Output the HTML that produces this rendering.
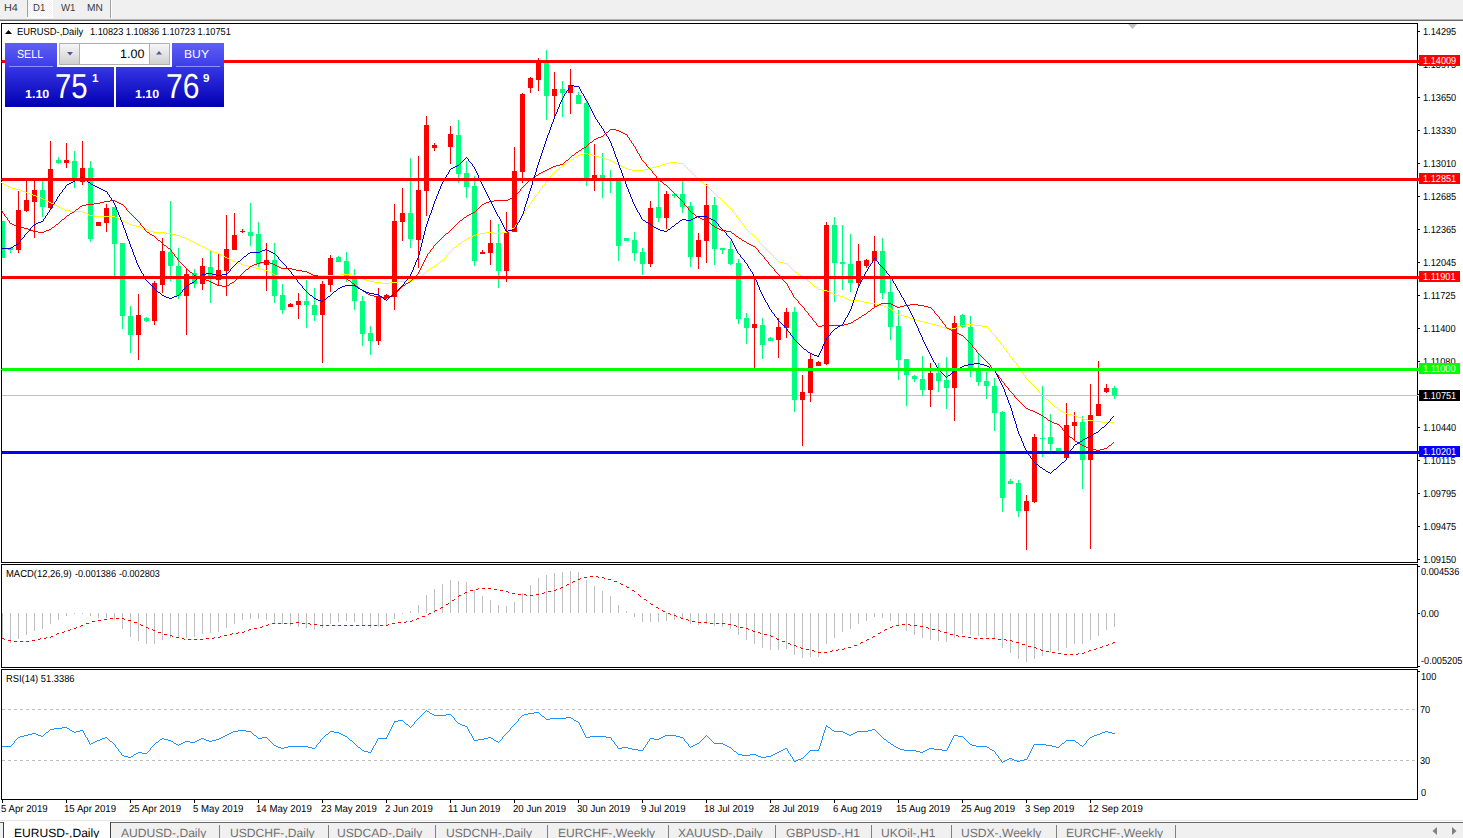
<!DOCTYPE html>
<html><head><meta charset="utf-8"><title>EURUSD-,Daily</title>
<style>
html,body{margin:0;padding:0;background:#fff;}
body{width:1463px;height:838px;overflow:hidden;position:relative;font-family:"Liberation Sans",sans-serif;color:#000;}
.t{position:absolute;white-space:nowrap;line-height:1;transform-origin:0 0;text-rendering:geometricPrecision;}
.b{position:absolute;}
svg{position:absolute;left:0;top:0;}
</style></head><body>

<div class="b" style="left:0px;top:0px;width:1463px;height:19px;background:#f0f0f0;"></div>
<div class="b" style="left:0px;top:19px;width:1463px;height:1px;background:#b4b4b4;"></div>
<div class="b" style="left:0px;top:20px;width:1463px;height:1px;background:#6a6a6a;"></div>
<div class="b" style="left:28px;top:0px;width:24px;height:17px;background:#f0f0f0;background-image:linear-gradient(45deg,#fff 25%,transparent 25%,transparent 75%,#fff 75%),linear-gradient(45deg,#fff 25%,transparent 25%,transparent 75%,#fff 75%);background-size:2px 2px;background-position:0 0,1px 1px;"></div>
<div class="b" style="left:52px;top:0px;width:1px;height:18px;background:#fff;"></div>
<div class="b" style="left:27px;top:17px;width:26px;height:1px;background:#fff;"></div>
<div class="b" style="left:27px;top:0px;width:1px;height:17px;background:#a0a0a0;"></div>
<div class="b" style="left:110px;top:0px;width:1px;height:18px;background:#a0a0a0;"></div>
<div class="b" style="left:111px;top:0px;width:1px;height:18px;background:#ffffff;"></div>
<div class="t" style="left:3.63px;top:3.00px;font-size:10.2px;color:#3c3c3c;transform:scaleX(1.0642);line-height:11px;">H4</div>
<div class="t" style="left:33.23px;top:3.00px;font-size:10.2px;color:#3c3c3c;transform:scaleX(0.9378);line-height:11px;">D1</div>
<div class="t" style="left:61.10px;top:3.00px;font-size:10.2px;color:#3c3c3c;transform:scaleX(0.9433);line-height:11px;">W1</div>
<div class="t" style="left:86.98px;top:3.00px;font-size:10.2px;color:#3c3c3c;transform:scaleX(1.0014);line-height:11px;">MN</div>
<svg width="1463" height="838" viewBox="0 0 1463 838" shape-rendering="crispEdges">
<g fill="none" stroke="#000" stroke-width="1">
<path d="M1.5 562.5 V23.5 H1417.5 V562.5 H1.5"/>
<path d="M1.5 564.5 H1417.5 V667.5 H1.5 Z"/>
<path d="M1.5 669.5 H1417.5 V799.5 H1.5 Z"/>
</g>
<g fill="#000">
<rect x="1418" y="31" width="2" height="1"/>
<rect x="1418" y="64" width="2" height="1"/>
<rect x="1418" y="97" width="2" height="1"/>
<rect x="1418" y="130" width="2" height="1"/>
<rect x="1418" y="163" width="2" height="1"/>
<rect x="1418" y="196" width="2" height="1"/>
<rect x="1418" y="229" width="2" height="1"/>
<rect x="1418" y="262" width="2" height="1"/>
<rect x="1418" y="295" width="2" height="1"/>
<rect x="1418" y="328" width="2" height="1"/>
<rect x="1418" y="361" width="2" height="1"/>
<rect x="1418" y="394" width="2" height="1"/>
<rect x="1418" y="427" width="2" height="1"/>
<rect x="1418" y="460" width="2" height="1"/>
<rect x="1418" y="493" width="2" height="1"/>
<rect x="1418" y="526" width="2" height="1"/>
<rect x="1418" y="559" width="2" height="1"/>
<rect x="1418" y="566" width="2" height="1"/>
<rect x="1418" y="613" width="2" height="1"/>
<rect x="1418" y="666" width="2" height="1"/>
<rect x="1418" y="671" width="2" height="1"/>
<rect x="2" y="800" width="1" height="3"/>
<rect x="66" y="800" width="1" height="3"/>
<rect x="130" y="800" width="1" height="3"/>
<rect x="194" y="800" width="1" height="3"/>
<rect x="258" y="800" width="1" height="3"/>
<rect x="322" y="800" width="1" height="3"/>
<rect x="386" y="800" width="1" height="3"/>
<rect x="450" y="800" width="1" height="3"/>
<rect x="514" y="800" width="1" height="3"/>
<rect x="578" y="800" width="1" height="3"/>
<rect x="642" y="800" width="1" height="3"/>
<rect x="706" y="800" width="1" height="3"/>
<rect x="770" y="800" width="1" height="3"/>
<rect x="834" y="800" width="1" height="3"/>
<rect x="898" y="800" width="1" height="3"/>
<rect x="962" y="800" width="1" height="3"/>
<rect x="1026" y="800" width="1" height="3"/>
<rect x="1090" y="800" width="1" height="3"/>
</g>
<path d="M1128 24 H1137 L1132.5 29 Z" fill="#c0c0c0" shape-rendering="auto"/>
<rect x="2" y="395" width="1416" height="1" fill="#c0c0c0"/>
<g>
<rect x="2" y="221" width="1" height="37" fill="#00ff7f"/>
<rect x="2" y="221" width="3" height="37" fill="#00ff7f"/>
<rect x="10" y="247" width="1" height="6" fill="#00ff7f"/>
<rect x="8" y="248" width="5" height="2" fill="#00ff7f"/>
<rect x="18" y="191" width="1" height="62" fill="#ff0000"/>
<rect x="16" y="210" width="5" height="40" fill="#ff0000"/>
<rect x="26" y="180" width="1" height="32" fill="#ff0000"/>
<rect x="24" y="200" width="5" height="11" fill="#ff0000"/>
<rect x="34" y="180" width="1" height="58" fill="#ff0000"/>
<rect x="32" y="190" width="5" height="12" fill="#ff0000"/>
<rect x="42" y="181" width="1" height="36" fill="#00ff7f"/>
<rect x="40" y="190" width="5" height="17" fill="#00ff7f"/>
<rect x="50" y="141" width="1" height="68" fill="#ff0000"/>
<rect x="48" y="169" width="5" height="39" fill="#ff0000"/>
<rect x="58" y="157" width="1" height="7" fill="#00ff7f"/>
<rect x="56" y="160" width="5" height="3" fill="#00ff7f"/>
<rect x="66" y="143" width="1" height="25" fill="#ff0000"/>
<rect x="64" y="160" width="5" height="3" fill="#ff0000"/>
<rect x="74" y="151" width="1" height="37" fill="#00ff7f"/>
<rect x="72" y="161" width="5" height="19" fill="#00ff7f"/>
<rect x="82" y="141" width="1" height="44" fill="#ff0000"/>
<rect x="80" y="168" width="5" height="14" fill="#ff0000"/>
<rect x="90" y="161" width="1" height="81" fill="#00ff7f"/>
<rect x="88" y="168" width="5" height="71" fill="#00ff7f"/>
<rect x="98" y="222" width="1" height="4" fill="#ff0000"/>
<rect x="96" y="222" width="5" height="4" fill="#ff0000"/>
<rect x="106" y="204" width="1" height="28" fill="#ff0000"/>
<rect x="104" y="208" width="5" height="15" fill="#ff0000"/>
<rect x="114" y="207" width="1" height="70" fill="#00ff7f"/>
<rect x="112" y="207" width="5" height="37" fill="#00ff7f"/>
<rect x="122" y="243" width="1" height="86" fill="#00ff7f"/>
<rect x="120" y="243" width="5" height="73" fill="#00ff7f"/>
<rect x="130" y="306" width="1" height="47" fill="#00ff7f"/>
<rect x="128" y="316" width="5" height="19" fill="#00ff7f"/>
<rect x="138" y="294" width="1" height="66" fill="#ff0000"/>
<rect x="136" y="315" width="5" height="20" fill="#ff0000"/>
<rect x="146" y="317" width="1" height="5" fill="#00ff7f"/>
<rect x="144" y="318" width="5" height="3" fill="#00ff7f"/>
<rect x="154" y="281" width="1" height="44" fill="#ff0000"/>
<rect x="152" y="283" width="5" height="38" fill="#ff0000"/>
<rect x="162" y="238" width="1" height="55" fill="#ff0000"/>
<rect x="160" y="251" width="5" height="34" fill="#ff0000"/>
<rect x="170" y="201" width="1" height="80" fill="#00ff7f"/>
<rect x="168" y="252" width="5" height="14" fill="#00ff7f"/>
<rect x="178" y="248" width="1" height="51" fill="#00ff7f"/>
<rect x="176" y="266" width="5" height="30" fill="#00ff7f"/>
<rect x="186" y="268" width="1" height="67" fill="#ff0000"/>
<rect x="184" y="274" width="5" height="22" fill="#ff0000"/>
<rect x="194" y="269" width="1" height="19" fill="#00ff7f"/>
<rect x="192" y="273" width="5" height="11" fill="#00ff7f"/>
<rect x="202" y="258" width="1" height="32" fill="#ff0000"/>
<rect x="200" y="266" width="5" height="18" fill="#ff0000"/>
<rect x="210" y="250" width="1" height="53" fill="#00ff7f"/>
<rect x="208" y="267" width="5" height="12" fill="#00ff7f"/>
<rect x="218" y="254" width="1" height="31" fill="#ff0000"/>
<rect x="216" y="270" width="5" height="10" fill="#ff0000"/>
<rect x="226" y="215" width="1" height="81" fill="#ff0000"/>
<rect x="224" y="249" width="5" height="22" fill="#ff0000"/>
<rect x="234" y="213" width="1" height="37" fill="#ff0000"/>
<rect x="232" y="235" width="5" height="15" fill="#ff0000"/>
<rect x="242" y="229" width="1" height="4" fill="#ff0000"/>
<rect x="240" y="231" width="5" height="1" fill="#ff0000"/>
<rect x="250" y="203" width="1" height="43" fill="#00ff7f"/>
<rect x="248" y="232" width="5" height="4" fill="#00ff7f"/>
<rect x="258" y="222" width="1" height="45" fill="#00ff7f"/>
<rect x="256" y="234" width="5" height="30" fill="#00ff7f"/>
<rect x="266" y="243" width="1" height="48" fill="#ff0000"/>
<rect x="264" y="260" width="5" height="5" fill="#ff0000"/>
<rect x="274" y="243" width="1" height="60" fill="#00ff7f"/>
<rect x="272" y="260" width="5" height="36" fill="#00ff7f"/>
<rect x="282" y="284" width="1" height="30" fill="#00ff7f"/>
<rect x="280" y="295" width="5" height="15" fill="#00ff7f"/>
<rect x="290" y="303" width="1" height="4" fill="#ff0000"/>
<rect x="288" y="304" width="5" height="3" fill="#ff0000"/>
<rect x="298" y="293" width="1" height="26" fill="#ff0000"/>
<rect x="296" y="301" width="5" height="4" fill="#ff0000"/>
<rect x="306" y="280" width="1" height="48" fill="#00ff7f"/>
<rect x="304" y="301" width="5" height="4" fill="#00ff7f"/>
<rect x="314" y="288" width="1" height="33" fill="#00ff7f"/>
<rect x="312" y="305" width="5" height="10" fill="#00ff7f"/>
<rect x="322" y="281" width="1" height="82" fill="#ff0000"/>
<rect x="320" y="284" width="5" height="31" fill="#ff0000"/>
<rect x="330" y="255" width="1" height="37" fill="#ff0000"/>
<rect x="328" y="258" width="5" height="27" fill="#ff0000"/>
<rect x="338" y="256" width="1" height="6" fill="#00ff7f"/>
<rect x="336" y="257" width="5" height="5" fill="#00ff7f"/>
<rect x="346" y="252" width="1" height="30" fill="#00ff7f"/>
<rect x="344" y="261" width="5" height="15" fill="#00ff7f"/>
<rect x="354" y="269" width="1" height="41" fill="#00ff7f"/>
<rect x="352" y="276" width="5" height="25" fill="#00ff7f"/>
<rect x="362" y="296" width="1" height="50" fill="#00ff7f"/>
<rect x="360" y="301" width="5" height="33" fill="#00ff7f"/>
<rect x="370" y="326" width="1" height="29" fill="#00ff7f"/>
<rect x="368" y="333" width="5" height="8" fill="#00ff7f"/>
<rect x="378" y="288" width="1" height="57" fill="#ff0000"/>
<rect x="376" y="296" width="5" height="45" fill="#ff0000"/>
<rect x="386" y="294" width="1" height="4" fill="#ff0000"/>
<rect x="384" y="295" width="5" height="3" fill="#ff0000"/>
<rect x="394" y="204" width="1" height="106" fill="#ff0000"/>
<rect x="392" y="221" width="5" height="76" fill="#ff0000"/>
<rect x="402" y="188" width="1" height="53" fill="#ff0000"/>
<rect x="400" y="213" width="5" height="9" fill="#ff0000"/>
<rect x="410" y="158" width="1" height="90" fill="#00ff7f"/>
<rect x="408" y="213" width="5" height="26" fill="#00ff7f"/>
<rect x="418" y="156" width="1" height="112" fill="#ff0000"/>
<rect x="416" y="190" width="5" height="50" fill="#ff0000"/>
<rect x="426" y="116" width="1" height="100" fill="#ff0000"/>
<rect x="424" y="125" width="5" height="66" fill="#ff0000"/>
<rect x="434" y="143" width="1" height="8" fill="#ff0000"/>
<rect x="432" y="145" width="5" height="3" fill="#ff0000"/>
<rect x="450" y="126" width="1" height="38" fill="#ff0000"/>
<rect x="448" y="134" width="5" height="13" fill="#ff0000"/>
<rect x="458" y="120" width="1" height="63" fill="#00ff7f"/>
<rect x="456" y="135" width="5" height="39" fill="#00ff7f"/>
<rect x="466" y="161" width="1" height="37" fill="#00ff7f"/>
<rect x="464" y="173" width="5" height="14" fill="#00ff7f"/>
<rect x="474" y="176" width="1" height="90" fill="#00ff7f"/>
<rect x="472" y="186" width="5" height="75" fill="#00ff7f"/>
<rect x="482" y="250" width="1" height="4" fill="#ff0000"/>
<rect x="480" y="252" width="5" height="2" fill="#ff0000"/>
<rect x="490" y="220" width="1" height="45" fill="#ff0000"/>
<rect x="488" y="243" width="5" height="10" fill="#ff0000"/>
<rect x="498" y="224" width="1" height="64" fill="#00ff7f"/>
<rect x="496" y="243" width="5" height="28" fill="#00ff7f"/>
<rect x="506" y="212" width="1" height="70" fill="#ff0000"/>
<rect x="504" y="232" width="5" height="39" fill="#ff0000"/>
<rect x="514" y="147" width="1" height="85" fill="#ff0000"/>
<rect x="512" y="171" width="5" height="61" fill="#ff0000"/>
<rect x="522" y="93" width="1" height="90" fill="#ff0000"/>
<rect x="520" y="94" width="5" height="78" fill="#ff0000"/>
<rect x="530" y="77" width="1" height="16" fill="#ff0000"/>
<rect x="528" y="78" width="5" height="10" fill="#ff0000"/>
<rect x="538" y="58" width="1" height="33" fill="#ff0000"/>
<rect x="536" y="63" width="5" height="17" fill="#ff0000"/>
<rect x="546" y="50" width="1" height="70" fill="#00ff7f"/>
<rect x="544" y="63" width="5" height="33" fill="#00ff7f"/>
<rect x="554" y="72" width="1" height="44" fill="#ff0000"/>
<rect x="552" y="89" width="5" height="7" fill="#ff0000"/>
<rect x="562" y="81" width="1" height="36" fill="#00ff7f"/>
<rect x="560" y="89" width="5" height="4" fill="#00ff7f"/>
<rect x="570" y="69" width="1" height="45" fill="#ff0000"/>
<rect x="568" y="85" width="5" height="8" fill="#ff0000"/>
<rect x="578" y="92" width="1" height="12" fill="#00ff7f"/>
<rect x="576" y="95" width="5" height="9" fill="#00ff7f"/>
<rect x="586" y="99" width="1" height="87" fill="#00ff7f"/>
<rect x="584" y="103" width="5" height="76" fill="#00ff7f"/>
<rect x="594" y="144" width="1" height="47" fill="#ff0000"/>
<rect x="592" y="175" width="5" height="6" fill="#ff0000"/>
<rect x="602" y="153" width="1" height="45" fill="#00ff7f"/>
<rect x="600" y="175" width="5" height="6" fill="#00ff7f"/>
<rect x="610" y="170" width="1" height="23" fill="#00ff7f"/>
<rect x="608" y="178" width="5" height="2" fill="#00ff7f"/>
<rect x="618" y="181" width="1" height="80" fill="#00ff7f"/>
<rect x="616" y="181" width="5" height="65" fill="#00ff7f"/>
<rect x="626" y="238" width="1" height="3" fill="#00ff7f"/>
<rect x="624" y="238" width="5" height="3" fill="#00ff7f"/>
<rect x="634" y="232" width="1" height="29" fill="#00ff7f"/>
<rect x="632" y="240" width="5" height="13" fill="#00ff7f"/>
<rect x="642" y="248" width="1" height="27" fill="#00ff7f"/>
<rect x="640" y="252" width="5" height="12" fill="#00ff7f"/>
<rect x="650" y="201" width="1" height="66" fill="#ff0000"/>
<rect x="648" y="208" width="5" height="56" fill="#ff0000"/>
<rect x="658" y="181" width="1" height="41" fill="#00ff7f"/>
<rect x="656" y="207" width="5" height="11" fill="#00ff7f"/>
<rect x="666" y="191" width="1" height="38" fill="#ff0000"/>
<rect x="664" y="194" width="5" height="24" fill="#ff0000"/>
<rect x="674" y="193" width="1" height="5" fill="#00ff7f"/>
<rect x="672" y="194" width="5" height="2" fill="#00ff7f"/>
<rect x="682" y="181" width="1" height="32" fill="#00ff7f"/>
<rect x="680" y="194" width="5" height="13" fill="#00ff7f"/>
<rect x="690" y="202" width="1" height="65" fill="#00ff7f"/>
<rect x="688" y="206" width="5" height="51" fill="#00ff7f"/>
<rect x="698" y="233" width="1" height="36" fill="#ff0000"/>
<rect x="696" y="240" width="5" height="17" fill="#ff0000"/>
<rect x="706" y="184" width="1" height="79" fill="#ff0000"/>
<rect x="704" y="205" width="5" height="36" fill="#ff0000"/>
<rect x="714" y="197" width="1" height="68" fill="#00ff7f"/>
<rect x="712" y="205" width="5" height="44" fill="#00ff7f"/>
<rect x="722" y="248" width="1" height="6" fill="#00ff7f"/>
<rect x="720" y="248" width="5" height="2" fill="#00ff7f"/>
<rect x="730" y="241" width="1" height="24" fill="#00ff7f"/>
<rect x="728" y="249" width="5" height="15" fill="#00ff7f"/>
<rect x="738" y="259" width="1" height="65" fill="#00ff7f"/>
<rect x="736" y="263" width="5" height="56" fill="#00ff7f"/>
<rect x="746" y="313" width="1" height="31" fill="#00ff7f"/>
<rect x="744" y="318" width="5" height="10" fill="#00ff7f"/>
<rect x="754" y="279" width="1" height="90" fill="#ff0000"/>
<rect x="752" y="324" width="5" height="4" fill="#ff0000"/>
<rect x="762" y="318" width="1" height="41" fill="#00ff7f"/>
<rect x="760" y="325" width="5" height="20" fill="#00ff7f"/>
<rect x="770" y="337" width="1" height="4" fill="#00ff7f"/>
<rect x="768" y="338" width="5" height="3" fill="#00ff7f"/>
<rect x="778" y="318" width="1" height="40" fill="#ff0000"/>
<rect x="776" y="327" width="5" height="13" fill="#ff0000"/>
<rect x="786" y="308" width="1" height="30" fill="#ff0000"/>
<rect x="784" y="312" width="5" height="16" fill="#ff0000"/>
<rect x="794" y="307" width="1" height="105" fill="#00ff7f"/>
<rect x="792" y="312" width="5" height="88" fill="#00ff7f"/>
<rect x="802" y="375" width="1" height="71" fill="#ff0000"/>
<rect x="800" y="392" width="5" height="8" fill="#ff0000"/>
<rect x="810" y="354" width="1" height="48" fill="#ff0000"/>
<rect x="808" y="359" width="5" height="34" fill="#ff0000"/>
<rect x="818" y="361" width="1" height="5" fill="#ff0000"/>
<rect x="816" y="362" width="5" height="4" fill="#ff0000"/>
<rect x="826" y="222" width="1" height="143" fill="#ff0000"/>
<rect x="824" y="225" width="5" height="139" fill="#ff0000"/>
<rect x="834" y="217" width="1" height="85" fill="#00ff7f"/>
<rect x="832" y="225" width="5" height="38" fill="#00ff7f"/>
<rect x="842" y="225" width="1" height="65" fill="#00ff7f"/>
<rect x="840" y="262" width="5" height="2" fill="#00ff7f"/>
<rect x="850" y="234" width="1" height="58" fill="#00ff7f"/>
<rect x="848" y="264" width="5" height="19" fill="#00ff7f"/>
<rect x="858" y="244" width="1" height="42" fill="#ff0000"/>
<rect x="856" y="261" width="5" height="22" fill="#ff0000"/>
<rect x="866" y="259" width="1" height="9" fill="#ff0000"/>
<rect x="864" y="260" width="5" height="6" fill="#ff0000"/>
<rect x="874" y="236" width="1" height="72" fill="#ff0000"/>
<rect x="872" y="251" width="5" height="10" fill="#ff0000"/>
<rect x="882" y="238" width="1" height="61" fill="#00ff7f"/>
<rect x="880" y="251" width="5" height="42" fill="#00ff7f"/>
<rect x="890" y="279" width="1" height="61" fill="#00ff7f"/>
<rect x="888" y="292" width="5" height="35" fill="#00ff7f"/>
<rect x="898" y="310" width="1" height="70" fill="#00ff7f"/>
<rect x="896" y="326" width="5" height="34" fill="#00ff7f"/>
<rect x="906" y="359" width="1" height="47" fill="#00ff7f"/>
<rect x="904" y="359" width="5" height="16" fill="#00ff7f"/>
<rect x="914" y="375" width="1" height="7" fill="#00ff7f"/>
<rect x="912" y="376" width="5" height="3" fill="#00ff7f"/>
<rect x="922" y="356" width="1" height="40" fill="#00ff7f"/>
<rect x="920" y="379" width="5" height="11" fill="#00ff7f"/>
<rect x="930" y="363" width="1" height="44" fill="#ff0000"/>
<rect x="928" y="373" width="5" height="17" fill="#ff0000"/>
<rect x="938" y="363" width="1" height="29" fill="#00ff7f"/>
<rect x="936" y="373" width="5" height="8" fill="#00ff7f"/>
<rect x="946" y="357" width="1" height="52" fill="#00ff7f"/>
<rect x="944" y="380" width="5" height="8" fill="#00ff7f"/>
<rect x="954" y="316" width="1" height="105" fill="#ff0000"/>
<rect x="952" y="323" width="5" height="65" fill="#ff0000"/>
<rect x="962" y="314" width="1" height="14" fill="#00ff7f"/>
<rect x="960" y="315" width="5" height="12" fill="#00ff7f"/>
<rect x="970" y="316" width="1" height="61" fill="#00ff7f"/>
<rect x="968" y="327" width="5" height="43" fill="#00ff7f"/>
<rect x="978" y="354" width="1" height="32" fill="#00ff7f"/>
<rect x="976" y="369" width="5" height="13" fill="#00ff7f"/>
<rect x="986" y="372" width="1" height="27" fill="#00ff7f"/>
<rect x="984" y="381" width="5" height="5" fill="#00ff7f"/>
<rect x="994" y="378" width="1" height="53" fill="#00ff7f"/>
<rect x="992" y="386" width="5" height="27" fill="#00ff7f"/>
<rect x="1002" y="411" width="1" height="101" fill="#00ff7f"/>
<rect x="1000" y="412" width="5" height="86" fill="#00ff7f"/>
<rect x="1010" y="479" width="1" height="5" fill="#00ff7f"/>
<rect x="1008" y="481" width="5" height="3" fill="#00ff7f"/>
<rect x="1018" y="480" width="1" height="37" fill="#00ff7f"/>
<rect x="1016" y="483" width="5" height="28" fill="#00ff7f"/>
<rect x="1026" y="495" width="1" height="55" fill="#ff0000"/>
<rect x="1024" y="501" width="5" height="10" fill="#ff0000"/>
<rect x="1034" y="434" width="1" height="69" fill="#ff0000"/>
<rect x="1032" y="437" width="5" height="65" fill="#ff0000"/>
<rect x="1042" y="386" width="1" height="71" fill="#00ff7f"/>
<rect x="1040" y="438" width="5" height="1" fill="#00ff7f"/>
<rect x="1050" y="414" width="1" height="40" fill="#00ff7f"/>
<rect x="1048" y="437" width="5" height="7" fill="#00ff7f"/>
<rect x="1058" y="448" width="1" height="4" fill="#00ff7f"/>
<rect x="1056" y="448" width="5" height="4" fill="#00ff7f"/>
<rect x="1066" y="403" width="1" height="56" fill="#ff0000"/>
<rect x="1064" y="425" width="5" height="33" fill="#ff0000"/>
<rect x="1074" y="412" width="1" height="28" fill="#ff0000"/>
<rect x="1072" y="422" width="5" height="4" fill="#ff0000"/>
<rect x="1082" y="416" width="1" height="73" fill="#00ff7f"/>
<rect x="1080" y="422" width="5" height="38" fill="#00ff7f"/>
<rect x="1090" y="384" width="1" height="165" fill="#ff0000"/>
<rect x="1088" y="415" width="5" height="45" fill="#ff0000"/>
<rect x="1098" y="361" width="1" height="55" fill="#ff0000"/>
<rect x="1096" y="404" width="5" height="12" fill="#ff0000"/>
<rect x="1106" y="384" width="1" height="9" fill="#ff0000"/>
<rect x="1104" y="388" width="5" height="4" fill="#ff0000"/>
<rect x="1114" y="386" width="1" height="13" fill="#00ff7f"/>
<rect x="1112" y="388" width="5" height="8" fill="#00ff7f"/>
</g>
<path d="M1 182.5h1M2 183.5h2M4 184.5h2M6 185.5h2M8 186.5h2M10 187.5h2M12 188.5h4M16 189.5h4M20 190.5h2M22 191.5h3M25 192.5h3M28 193.5h2M30 194.5h3M33 195.5h3M36 196.5h2M38 197.5h3M41 198.5h2M43 199.5h2M45 200.5h2M47 201.5h2M49 202.5h2M51 203.5h2M53 204.5h2M55 205.5h2M57 206.5h2M59 207.5h2M61 208.5h2M63 209.5h2M65 210.5h5M70 211.5h13M83 212.5h2M85 213.5h2M87 214.5h2M89 215.5h5M94 216.5h21M115 217.5h2M117 218.5h2M119 219.5h2M121 220.5h2M123 221.5h2M125 222.5h2M127 223.5h2M129 224.5h3M132 225.5h4M136 226.5h4M140 227.5h2M142 228.5h3M145 229.5h3M148 230.5h2M150 231.5h3M153 232.5h13M166 233.5h6M172 234.5h4M176 235.5h4M180 236.5h2M182 237.5h3M185 238.5h2M187 239.5h2M189 240.5h2M191 241.5h2M193 242.5h2M195 243.5h2M197 244.5h2M199 245.5h2M201 246.5h2M203 247.5h2M205 248.5h2M207 249.5h2M209 250.5h3M212 251.5h2M214 252.5h3M217 253.5h2M219 254.5h2M221 255.5h2M223 256.5h2M225 257.5h2M227 258.5h2M229 259.5h2M231 260.5h2M233 261.5h3M236 262.5h2M238 263.5h3M241 264.5h3M244 265.5h4M248 266.5h4M252 267.5h4M256 268.5h4M260 269.5h4M264 270.5h3M267 271.5h2M269 272.5h2M271 273.5h2M273 274.5h2M275 275.5h2M277 276.5h16M293 275.5h47M340 274.5h12M352 275.5h4M356 276.5h2M358 277.5h3M361 278.5h3M364 279.5h2M366 280.5h3M369 281.5h5M374 282.5h8M382 283.5h8M390 282.5h8M398 281.5h8M406 280.5h8M414 279.5h5M419 278.5h1M420 277.5h1M421 276.5h1M422 275.5h1M423 274.5h1M424 273.5h1M425 272.5h1M426 271.5h1M427 270.5h2M429 269.5h1M430 268.5h2M432 267.5h2M434 266.5h1M435 265.5h1M436 264.5h2M438 263.5h1M439 262.5h1M440 261.5h2M442 260.5h1M443 259.5h1M444 258.5h1M445 257.5h1M446.5 255v2M447 254.5h1M448 253.5h1M449 252.5h1M450 251.5h1M451 250.5h1M452 249.5h1M453 248.5h1M454 247.5h2M456 246.5h1M457 245.5h1M458 244.5h1M459 243.5h2M461 242.5h1M462 241.5h2M464 240.5h2M466 239.5h1M467 238.5h2M469 237.5h2M471 236.5h2M473 235.5h3M476 234.5h4M480 233.5h6M486 232.5h8M494 233.5h8M502 232.5h5M507 231.5h2M509 230.5h1M510 229.5h2M512 228.5h2M514 227.5h1M515.5 225v2M516 224.5h1M517.5 222v2M518 221.5h1M519.5 219v2M520 218.5h1M521.5 216v2M522 215.5h1M523.5 213v2M524 212.5h1M525.5 210v2M526 209.5h1M527.5 207v2M528 206.5h1M529.5 204v2M530 203.5h1M531.5 201v2M532 200.5h1M533 199.5h1M534.5 197v2M535 196.5h1M536 195.5h1M537.5 193v2M538 192.5h1M539.5 190v2M540 189.5h1M541 188.5h1M542.5 186v2M543 185.5h1M544 184.5h1M545.5 182v2M546 181.5h1M547 180.5h1M548 179.5h1M549 178.5h1M550.5 176v2M551 175.5h1M552 174.5h1M553 173.5h1M554 172.5h1M555 171.5h1M556 170.5h2M558 169.5h1M559 168.5h1M560 167.5h2M562 166.5h1M563 165.5h1M564 164.5h2M566 163.5h1M567 162.5h1M568 161.5h2M570 160.5h1M571 159.5h2M573 158.5h1M574 157.5h2M576 156.5h2M578 155.5h2M580 154.5h4M584 153.5h4M588 154.5h4M592 155.5h4M596 156.5h4M600 157.5h4M604 158.5h2M606 159.5h3M609 160.5h2M611 161.5h2M613 162.5h2M615 163.5h2M617 164.5h2M619 165.5h2M621 166.5h2M623 167.5h2M625 168.5h3M628 169.5h4M632 170.5h12M644 169.5h4M648 168.5h4M652 167.5h4M656 166.5h4M660 165.5h2M662 164.5h3M665 163.5h5M670 162.5h8M678 163.5h5M683 164.5h1M684 165.5h1M685 166.5h1M686 167.5h1M687 168.5h1M688 169.5h1M689 170.5h1M690 171.5h1M691 172.5h1M692 173.5h1M693 174.5h1M694 175.5h1M695 176.5h1M696 177.5h1M697 178.5h1M698 179.5h1M699 180.5h1M700 181.5h2M702 182.5h1M703 183.5h1M704 184.5h2M706 185.5h1M707 186.5h1M708 187.5h1M709 188.5h1M710 189.5h1M711 190.5h1M712 191.5h1M713 192.5h1M714 193.5h1M715 194.5h1M716 195.5h1M717 196.5h1M718 197.5h2M720 198.5h1M721 199.5h1M722 200.5h1M723 201.5h1M724 202.5h1M725 203.5h1M726 204.5h1M727 205.5h1M728 206.5h1M729 207.5h1M730 208.5h1M731 209.5h1M732.5 210v2M733 212.5h1M734 213.5h1M735 214.5h1M736.5 215v2M737 217.5h1M738 218.5h1M739.5 219v2M740 221.5h1M741 222.5h1M742.5 223v2M743 225.5h1M744 226.5h1M745.5 227v2M746 229.5h1M747 230.5h1M748 231.5h1M749 232.5h1M750 233.5h2M752 234.5h1M753 235.5h1M754 236.5h1M755 237.5h1M756 238.5h1M757 239.5h1M758.5 240v2M759 242.5h1M760 243.5h1M761 244.5h1M762 245.5h1M763 246.5h1M764 247.5h1M765 248.5h1M766 249.5h1M767 250.5h1M768 251.5h1M769 252.5h1M770 253.5h1M771 254.5h1M772 255.5h1M773 256.5h1M774 257.5h1M775 258.5h1M776 259.5h1M777 260.5h1M778 261.5h2M780 262.5h4M784 263.5h3M787 264.5h1M788 265.5h1M789 266.5h1M790 267.5h1M791 268.5h1M792 269.5h1M793 270.5h1M794 271.5h1M795 272.5h2M797 273.5h1M798 274.5h2M800 275.5h2M802 276.5h1M803 277.5h1M804 278.5h2M806 279.5h1M807 280.5h1M808 281.5h2M810 282.5h1M811 283.5h1M812 284.5h1M813 285.5h1M814 286.5h2M816 287.5h1M817 288.5h1M818 289.5h4M822 290.5h5M827 291.5h2M829 292.5h2M831 293.5h2M833 294.5h3M836 295.5h4M840 296.5h3M843 297.5h2M845 298.5h2M847 299.5h2M849 300.5h11M860 301.5h4M864 302.5h6M870 303.5h6M876 304.5h4M880 305.5h4M884 306.5h2M886 307.5h3M889 308.5h2M891 309.5h1M892 310.5h2M894 311.5h1M895 312.5h1M896 313.5h2M898 314.5h2M900 315.5h4M904 316.5h4M908 317.5h2M910 318.5h3M913 319.5h3M916 320.5h4M920 321.5h4M924 322.5h4M928 323.5h4M932 324.5h4M936 325.5h4M940 326.5h2M942 327.5h3M945 328.5h11M956 327.5h2M958 326.5h3M961 325.5h5M966 324.5h8M974 325.5h8M982 326.5h5M987 327.5h1M988 328.5h1M989 329.5h1M990.5 330v2M991 332.5h1M992 333.5h1M993 334.5h1M994 335.5h1M995 336.5h1M996.5 337v2M997 339.5h1M998 340.5h1M999 341.5h1M1000.5 342v2M1001 344.5h1M1002 345.5h1M1003.5 346v2M1004 348.5h1M1005 349.5h1M1006.5 350v2M1007 352.5h1M1008 353.5h1M1009.5 354v2M1010 356.5h1M1011 357.5h1M1012.5 358v2M1013 360.5h1M1014 361.5h1M1015 362.5h1M1016.5 363v2M1017 365.5h1M1018 366.5h1M1019.5 367v2M1020 369.5h1M1021.5 370v2M1022 372.5h1M1023.5 373v2M1024 375.5h1M1025.5 376v2M1026 378.5h1M1027 379.5h1M1028 380.5h1M1029 381.5h1M1030 382.5h1M1031 383.5h1M1032 384.5h1M1033 385.5h1M1034 386.5h1M1035 387.5h1M1036 388.5h1M1037 389.5h1M1038.5 390v2M1039 392.5h1M1040 393.5h1M1041 394.5h1M1042 395.5h1M1043 396.5h1M1044 397.5h1M1045 398.5h1M1046 399.5h2M1048 400.5h1M1049 401.5h1M1050 402.5h1M1051 403.5h1M1052 404.5h1M1053 405.5h1M1054 406.5h2M1056 407.5h1M1057 408.5h1M1058 409.5h1M1059 410.5h2M1061 411.5h2M1063 412.5h2M1065 413.5h3M1068 414.5h4M1072 415.5h4M1076 416.5h2M1078 417.5h3M1081 418.5h3M1084 419.5h4M1088 420.5h6M1094 421.5h8M1102 422.5h12" fill="none" stroke="#ffff00" stroke-width="1"/>
<path d="M1 210.5h1M2.5 211v2M3 213.5h1M4.5 214v2M5 216.5h1M6 217.5h1M7.5 218v2M8 220.5h1M9.5 221v2M10 223.5h2M12 224.5h2M14 225.5h3M17 226.5h3M20 227.5h4M24 228.5h4M28 229.5h2M30 230.5h3M33 231.5h5M38 232.5h6M44 231.5h2M46 230.5h3M49 229.5h2M51 228.5h1M52 227.5h2M54 226.5h1M55 225.5h1M56 224.5h2M58 223.5h1M59 222.5h1M60 221.5h1M61 220.5h1M62 219.5h2M64 218.5h1M65 217.5h1M66 216.5h1M67 215.5h2M69 214.5h1M70 213.5h2M72 212.5h2M74 211.5h1M75 210.5h1M76 209.5h2M78 208.5h1M79 207.5h1M80 206.5h2M82 205.5h4M86 204.5h8M94 203.5h6M100 202.5h4M104 201.5h6M110 200.5h5M115 201.5h2M117 202.5h2M119 203.5h2M121 204.5h2M123 205.5h1M124 206.5h1M125 207.5h1M126.5 208v2M127 210.5h1M128 211.5h1M129 212.5h1M130 213.5h1M131 214.5h1M132 215.5h1M133 216.5h1M134 217.5h1M135 218.5h1M136 219.5h1M137 220.5h1M138 221.5h1M139 222.5h1M140.5 223v2M141 225.5h1M142 226.5h1M143 227.5h1M144.5 228v2M145 230.5h1M146 231.5h1M147 232.5h2M149 233.5h1M150 234.5h2M152 235.5h2M154 236.5h1M155 237.5h1M156 238.5h1M157 239.5h1M158 240.5h2M160 241.5h1M161 242.5h1M162 243.5h1M163 244.5h1M164 245.5h2M166 246.5h1M167 247.5h1M168 248.5h2M170 249.5h1M171.5 250v2M172 252.5h1M173 253.5h1M174.5 254v2M175 256.5h1M176 257.5h1M177.5 258v2M178 260.5h1M179 261.5h1M180 262.5h1M181 263.5h1M182 264.5h1M183 265.5h1M184 266.5h1M185 267.5h1M186 268.5h1M187 269.5h1M188 270.5h1M189 271.5h1M190 272.5h2M192 273.5h1M193 274.5h1M194 275.5h2M196 276.5h2M198 277.5h3M201 278.5h3M204 279.5h2M206 280.5h3M209 281.5h2M211 282.5h2M213 283.5h2M215 284.5h2M217 285.5h5M222 286.5h5M227 285.5h2M229 284.5h1M230 283.5h2M232 282.5h2M234 281.5h1M235 280.5h1M236 279.5h1M237 278.5h1M238 277.5h1M239 276.5h1M240 275.5h1M241 274.5h1M242 273.5h1M243 272.5h1M244 271.5h1M245 270.5h1M246 269.5h2M248 268.5h1M249 267.5h1M250 266.5h2M252 265.5h2M254 264.5h3M257 263.5h3M260 262.5h4M264 261.5h4M268 262.5h2M270 263.5h3M273 264.5h2M275 265.5h2M277 266.5h2M279 267.5h2M281 268.5h11M292 269.5h4M296 270.5h6M302 271.5h5M307 272.5h2M309 273.5h2M311 274.5h2M313 275.5h5M318 276.5h8M326 277.5h16M342 278.5h5M347 279.5h1M348 280.5h2M350 281.5h1M351 282.5h1M352 283.5h2M354 284.5h1M355 285.5h1M356 286.5h2M358 287.5h1M359 288.5h1M360 289.5h2M362 290.5h1M363 291.5h2M365 292.5h1M366 293.5h2M368 294.5h2M370 295.5h4M374 296.5h6M380 297.5h4M384 298.5h3M387 297.5h2M389 296.5h2M391 295.5h2M393 294.5h2M395 293.5h1M396 292.5h1M397 291.5h1M398 290.5h1M399 289.5h1M400 288.5h1M401 287.5h1M402 286.5h1M403 285.5h2M405 284.5h1M406 283.5h2M408 282.5h2M410 281.5h1M411 280.5h1M412 279.5h1M413 278.5h1M414 277.5h1M415 276.5h1M416 275.5h1M417 274.5h1M418.5 272v2M419.5 270v2M420.5 268v2M421.5 266v2M422.5 264v2M423.5 262v2M424.5 260v2M425.5 258v2M426.5 256v2M427.5 254v2M428 253.5h1M429 252.5h1M430.5 250v2M431 249.5h1M432 248.5h1M433.5 246v2M434 245.5h1M435 244.5h1M436 243.5h1M437 242.5h1M438 241.5h1M439 240.5h1M440 239.5h1M441 238.5h1M442 237.5h1M443 236.5h1M444 235.5h1M445 234.5h1M446 233.5h2M448 232.5h1M449 231.5h1M450 230.5h1M451 229.5h1M452 228.5h1M453 227.5h1M454 226.5h1M455 225.5h1M456 224.5h1M457 223.5h1M458 222.5h1M459 221.5h1M460 220.5h2M462 219.5h1M463 218.5h1M464 217.5h2M466 216.5h1M467 215.5h2M469 214.5h2M471 213.5h2M473 212.5h2M475 211.5h1M476 210.5h1M477 209.5h1M478 208.5h1M479 207.5h1M480 206.5h1M481 205.5h1M482 204.5h2M484 203.5h2M486 202.5h3M489 201.5h5M494 200.5h14M508 199.5h2M510 198.5h3M513 197.5h2M515 196.5h1M516.5 194v2M517 193.5h1M518 192.5h1M519 191.5h1M520.5 189v2M521 188.5h1M522 187.5h1M523 186.5h1M524 185.5h1M525 184.5h1M526 183.5h1M527 182.5h1M528 181.5h1M529 180.5h1M530 179.5h1M531 178.5h2M533 177.5h1M534 176.5h2M536 175.5h2M538 174.5h1M539 173.5h2M541 172.5h2M543 171.5h2M545 170.5h2M547 169.5h2M549 168.5h2M551 167.5h2M553 166.5h3M556 165.5h4M560 164.5h3M563 163.5h1M564 162.5h1M565 161.5h1M566 160.5h2M568 159.5h1M569 158.5h1M570 157.5h1M571 156.5h1M572 155.5h2M574 154.5h1M575 153.5h1M576 152.5h2M578 151.5h1M579 150.5h2M581 149.5h1M582 148.5h2M584 147.5h2M586 146.5h1M587 145.5h1M588 144.5h1M589 143.5h1M590 142.5h2M592 141.5h1M593 140.5h1M594 139.5h2M596 138.5h2M598 137.5h3M601 136.5h2M603 135.5h1M604 134.5h1M605 133.5h1M606 132.5h2M608 131.5h1M609 130.5h1M610 129.5h6M616 130.5h3M619 131.5h2M621 132.5h2M623 133.5h2M625 134.5h2M627.5 135v2M628 137.5h1M629.5 138v2M630 140.5h1M631.5 141v2M632 143.5h1M633.5 144v2M634 146.5h1M635.5 147v2M636.5 149v2M637.5 151v2M638 153.5h1M639.5 154v2M640.5 156v2M641.5 158v2M642 160.5h1M643 161.5h1M644 162.5h1M645 163.5h1M646.5 164v2M647 166.5h1M648 167.5h1M649 168.5h1M650 169.5h1M651 170.5h1M652.5 171v2M653 173.5h1M654 174.5h1M655 175.5h1M656.5 176v2M657 178.5h1M658 179.5h1M659 180.5h1M660 181.5h2M662 182.5h1M663 183.5h1M664 184.5h2M666 185.5h1M667 186.5h1M668 187.5h1M669 188.5h1M670 189.5h1M671 190.5h1M672 191.5h1M673 192.5h1M674 193.5h1M675 194.5h1M676 195.5h1M677 196.5h1M678 197.5h1M679 198.5h1M680 199.5h1M681 200.5h1M682 201.5h1M683 202.5h1M684.5 203v2M685 205.5h1M686 206.5h1M687 207.5h1M688.5 208v2M689 210.5h1M690 211.5h1M691 212.5h1M692 213.5h2M694 214.5h1M695 215.5h1M696 216.5h2M698 217.5h2M700 218.5h2M702 219.5h3M705 220.5h2M707 221.5h1M708 222.5h2M710 223.5h1M711 224.5h1M712 225.5h2M714 226.5h1M715 227.5h2M717 228.5h2M719 229.5h2M721 230.5h5M726 231.5h5M731 232.5h1M732 233.5h2M734 234.5h1M735 235.5h1M736 236.5h2M738 237.5h1M739 238.5h2M741 239.5h1M742 240.5h2M744 241.5h2M746 242.5h1M747 243.5h2M749 244.5h2M751 245.5h2M753 246.5h2M755 247.5h1M756 248.5h1M757 249.5h1M758.5 250v2M759 252.5h1M760 253.5h1M761 254.5h1M762 255.5h1M763 256.5h1M764.5 257v2M765 259.5h1M766 260.5h1M767 261.5h1M768.5 262v2M769 264.5h1M770 265.5h1M771 266.5h1M772 267.5h1M773 268.5h1M774.5 269v2M775 271.5h1M776 272.5h1M777 273.5h1M778 274.5h1M779 275.5h1M780 276.5h1M781 277.5h1M782.5 278v2M783 280.5h1M784 281.5h1M785 282.5h1M786 283.5h1M787.5 284v2M788.5 286v2M789.5 288v2M790 290.5h1M791.5 291v2M792.5 293v2M793.5 295v2M794 297.5h1M795 298.5h1M796 299.5h1M797 300.5h1M798.5 301v2M799 303.5h1M800 304.5h1M801 305.5h1M802 306.5h1M803 307.5h1M804.5 308v2M805 310.5h1M806 311.5h1M807 312.5h1M808.5 313v2M809 315.5h1M810 316.5h1M811 317.5h1M812.5 318v2M813 320.5h1M814 321.5h1M815 322.5h1M816.5 323v2M817 325.5h1M818 326.5h4M822 325.5h22M844 324.5h4M848 323.5h3M851 322.5h2M853 321.5h1M854 320.5h2M856 319.5h2M858 318.5h1M859 317.5h2M861 316.5h1M862 315.5h2M864 314.5h2M866 313.5h1M867 312.5h1M868 311.5h2M870 310.5h1M871 309.5h1M872 308.5h2M874 307.5h1M875 306.5h2M877 305.5h2M879 304.5h2M881 303.5h10M891 304.5h2M893 305.5h2M895 306.5h2M897 307.5h3M900 306.5h4M904 305.5h6M910 304.5h8M918 305.5h6M924 306.5h4M928 307.5h3M931 308.5h1M932 309.5h1M933 310.5h1M934.5 311v2M935 313.5h1M936 314.5h1M937 315.5h1M938 316.5h1M939.5 317v2M940 319.5h1M941 320.5h1M942.5 321v2M943 323.5h1M944 324.5h1M945.5 325v2M946 327.5h1M947 328.5h2M949 329.5h2M951 330.5h2M953 331.5h2M955 332.5h2M957 333.5h2M959 334.5h2M961 335.5h2M963 336.5h1M964 337.5h1M965 338.5h1M966 339.5h1M967 340.5h1M968 341.5h1M969 342.5h1M970 343.5h1M971 344.5h1M972.5 345v2M973 347.5h1M974 348.5h1M975 349.5h1M976.5 350v2M977 352.5h1M978 353.5h1M979 354.5h1M980 355.5h1M981 356.5h1M982 357.5h1M983 358.5h1M984 359.5h1M985 360.5h1M986 361.5h1M987 362.5h1M988 363.5h1M989 364.5h1M990.5 365v2M991 367.5h1M992 368.5h1M993 369.5h1M994 370.5h1M995.5 371v2M996 373.5h1M997 374.5h1M998.5 375v2M999 377.5h1M1000 378.5h1M1001.5 379v2M1002 381.5h1M1003 382.5h1M1004.5 383v2M1005 385.5h1M1006 386.5h1M1007 387.5h1M1008.5 388v2M1009 390.5h1M1010 391.5h1M1011 392.5h1M1012 393.5h1M1013 394.5h1M1014.5 395v2M1015 397.5h1M1016 398.5h1M1017 399.5h1M1018 400.5h1M1019 401.5h1M1020 402.5h1M1021 403.5h1M1022 404.5h1M1023 405.5h1M1024 406.5h1M1025 407.5h1M1026 408.5h2M1028 409.5h2M1030 410.5h3M1033 411.5h2M1035 412.5h2M1037 413.5h2M1039 414.5h2M1041 415.5h2M1043 416.5h1M1044 417.5h2M1046 418.5h1M1047 419.5h1M1048 420.5h2M1050 421.5h2M1052 422.5h2M1054 423.5h3M1057 424.5h2M1059 425.5h1M1060 426.5h1M1061 427.5h1M1062.5 428v2M1063 430.5h1M1064 431.5h1M1065 432.5h1M1066 433.5h1M1067 434.5h1M1068 435.5h1M1069 436.5h1M1070 437.5h2M1072 438.5h1M1073 439.5h1M1074 440.5h1M1075 441.5h2M1077 442.5h1M1078 443.5h2M1080 444.5h2M1082 445.5h2M1084 446.5h2M1086 447.5h3M1089 448.5h3M1092 449.5h4M1096 450.5h4M1100 449.5h4M1104 448.5h3M1107 447.5h1M1108 446.5h1M1109 445.5h2M1111 444.5h1M1112 443.5h1M1113 442.5h1" fill="none" stroke="#ff0000" stroke-width="1"/>
<path d="M1 248.5h10M11 247.5h2M13 246.5h1M14 245.5h2M16 244.5h2M18 243.5h1M19 242.5h1M20.5 240v2M21 239.5h1M22 238.5h1M23 237.5h1M24.5 235v2M25 234.5h1M26 233.5h1M27 232.5h1M28 231.5h1M29 230.5h1M30.5 228v2M31 227.5h1M32 226.5h1M33 225.5h1M34 224.5h2M36 223.5h2M38 222.5h3M41 221.5h2M43.5 219v2M44 218.5h1M45.5 216v2M46 215.5h1M47.5 213v2M48 212.5h1M49.5 210v2M50 209.5h1M51.5 207v2M52.5 205v2M53 204.5h1M54.5 202v2M55 201.5h1M56.5 199v2M57.5 197v2M58 196.5h1M59.5 194v2M60 193.5h1M61 192.5h1M62.5 190v2M63 189.5h1M64 188.5h1M65.5 186v2M66 185.5h1M67 184.5h2M69 183.5h2M71 182.5h2M73 181.5h2M75 180.5h2M77 179.5h2M79 178.5h2M81 177.5h2M83 178.5h1M84 179.5h2M86 180.5h1M87 181.5h1M88 182.5h2M90 183.5h1M91 184.5h2M93 185.5h2M95 186.5h2M97 187.5h2M99 188.5h2M101 189.5h2M103 190.5h2M105 191.5h2M107.5 192v2M108 194.5h1M109.5 195v2M110 197.5h1M111.5 198v2M112 200.5h1M113.5 201v2M114.5 203v2M115.5 205v2M116.5 207v3M117.5 210v2M118.5 212v3M119.5 215v2M120.5 217v3M121.5 220v2M122.5 222v3M123.5 225v3M124.5 228v2M125.5 230v3M126.5 233v3M127.5 236v3M128.5 239v2M129.5 241v3M130.5 244v3M131.5 247v2M132.5 249v3M133.5 252v3M134.5 255v2M135.5 257v3M136.5 260v3M137.5 263v2M138.5 265v2M139.5 267v2M140.5 269v2M141.5 271v2M142 273.5h1M143.5 274v2M144.5 276v2M145.5 278v2M146 280.5h1M147 281.5h1M148 282.5h1M149 283.5h1M150 284.5h1M151 285.5h1M152 286.5h1M153 287.5h1M154 288.5h1M155 289.5h1M156 290.5h1M157 291.5h1M158 292.5h2M160 293.5h1M161 294.5h1M162 295.5h2M164 296.5h2M166 297.5h3M169 298.5h3M172 297.5h2M174 296.5h3M177 295.5h2M179 294.5h1M180 293.5h1M181 292.5h1M182.5 290v2M183 289.5h1M184 288.5h1M185 287.5h1M186 286.5h1M187 285.5h2M189 284.5h1M190 283.5h2M192 282.5h2M194 281.5h1M195 280.5h1M196 279.5h1M197 278.5h1M198 277.5h2M200 276.5h1M201 275.5h1M202 274.5h4M206 273.5h6M212 274.5h4M216 275.5h6M222 274.5h5M227 273.5h1M228 272.5h1M229 271.5h1M230.5 269v2M231 268.5h1M232 267.5h1M233 266.5h1M234 265.5h1M235 264.5h1M236 263.5h1M237 262.5h1M238 261.5h2M240 260.5h1M241 259.5h1M242 258.5h1M243 257.5h1M244 256.5h2M246 255.5h1M247 254.5h1M248 253.5h2M250 252.5h10M260 251.5h2M262 250.5h3M265 249.5h2M267 250.5h2M269 251.5h2M271 252.5h2M273 253.5h2M275 254.5h1M276 255.5h1M277 256.5h1M278.5 257v2M279 259.5h1M280 260.5h1M281 261.5h1M282 262.5h1M283 263.5h1M284 264.5h1M285 265.5h1M286.5 266v2M287 268.5h1M288 269.5h1M289 270.5h1M290 271.5h1M291.5 272v2M292 274.5h1M293 275.5h1M294.5 276v2M295 278.5h1M296 279.5h1M297.5 280v2M298 282.5h1M299 283.5h1M300 284.5h1M301 285.5h1M302.5 286v2M303 288.5h1M304 289.5h1M305 290.5h1M306 291.5h1M307 292.5h1M308 293.5h1M309 294.5h1M310 295.5h2M312 296.5h1M313 297.5h1M314 298.5h2M316 299.5h2M318 300.5h3M321 301.5h2M323 300.5h1M324 299.5h2M326 298.5h1M327 297.5h1M328 296.5h2M330 295.5h1M331 294.5h1M332 293.5h1M333 292.5h1M334 291.5h2M336 290.5h1M337 289.5h1M338 288.5h2M340 287.5h2M342 286.5h3M345 285.5h10M355 286.5h2M357 287.5h1M358 288.5h2M360 289.5h2M362 290.5h2M364 291.5h2M366 292.5h3M369 293.5h5M374 294.5h5M379 295.5h1M380 296.5h2M382 297.5h1M383 298.5h1M384 299.5h2M386 300.5h1M387 299.5h1M388 298.5h1M389 297.5h1M390 296.5h2M392 295.5h1M393 294.5h1M394 293.5h1M395 292.5h1M396 291.5h1M397 290.5h1M398 289.5h1M399 288.5h1M400 287.5h1M401 286.5h1M402 285.5h1M403 284.5h1M404.5 282v2M405 281.5h1M406 280.5h1M407 279.5h1M408.5 277v2M409 276.5h1M410.5 274v2M411.5 272v2M412.5 270v2M413.5 267v3M414.5 265v2M415.5 262v3M416.5 260v2M417.5 258v2M418.5 255v3M419.5 251v4M420.5 247v4M421.5 243v4M422.5 239v4M423.5 235v4M424.5 231v4M425.5 227v4M426.5 224v3M427.5 221v3M428.5 218v3M429.5 215v3M430.5 213v2M431.5 210v3M432.5 207v3M433.5 204v3M434.5 201v3M435.5 199v2M436.5 196v3M437.5 194v2M438.5 191v3M439.5 189v2M440.5 186v3M441.5 184v2M442.5 182v2M443.5 180v2M444.5 178v2M445 177.5h1M446.5 175v2M447 174.5h1M448.5 172v2M449.5 170v2M450 169.5h1M451 168.5h2M453 167.5h2M455 166.5h2M457 165.5h2M459 164.5h1M460 163.5h1M461 162.5h1M462 161.5h1M463 160.5h1M464 159.5h1M465 158.5h1M466 157.5h1M467 158.5h1M468.5 159v2M469 161.5h1M470 162.5h1M471 163.5h1M472.5 164v2M473 166.5h1M474.5 167v2M475.5 169v2M476.5 171v2M477.5 173v2M478.5 175v3M479.5 178v2M480.5 180v2M481.5 182v2M482.5 184v2M483.5 186v2M484.5 188v2M485.5 190v2M486.5 192v2M487.5 194v2M488.5 196v2M489.5 198v2M490.5 200v2M491.5 202v2M492.5 204v2M493.5 206v2M494.5 208v2M495.5 210v2M496.5 212v2M497.5 214v2M498 216.5h1M499.5 217v2M500.5 219v2M501.5 221v2M502.5 223v2M503.5 225v2M504.5 227v2M505.5 229v2M506 231.5h2M508 230.5h4M512 229.5h3M515.5 227v2M516.5 225v2M517.5 223v2M518 222.5h1M519.5 220v2M520.5 218v2M521.5 216v2M522.5 214v2M523.5 211v3M524.5 207v4M525.5 204v3M526.5 201v3M527.5 198v3M528.5 194v4M529.5 191v3M530.5 188v3M531.5 185v3M532.5 181v4M533.5 178v3M534.5 175v3M535.5 172v3M536.5 168v4M537.5 165v3M538.5 162v3M539.5 159v3M540.5 156v3M541.5 153v3M542.5 150v3M543.5 147v3M544.5 144v3M545.5 141v3M546.5 138v3M547.5 135v3M548.5 133v2M549.5 130v3M550.5 127v3M551.5 124v3M552.5 122v2M553.5 119v3M554.5 116v3M555.5 114v2M556.5 112v2M557.5 109v3M558.5 107v2M559.5 104v3M560.5 102v2M561.5 100v2M562.5 98v2M563.5 96v2M564.5 94v2M565 93.5h1M566.5 91v2M567 90.5h1M568.5 88v2M569.5 86v2M570 85.5h4M574 86.5h5M579.5 87v2M580.5 89v2M581.5 91v2M582 93.5h1M583.5 94v2M584.5 96v2M585.5 98v2M586 100.5h1M587.5 101v2M588.5 103v2M589.5 105v2M590.5 107v2M591.5 109v2M592.5 111v2M593.5 113v2M594.5 115v2M595.5 117v2M596 119.5h1M597.5 120v2M598 122.5h1M599.5 123v2M600 125.5h1M601.5 126v2M602 128.5h1M603.5 129v2M604.5 131v2M605 133.5h1M606.5 134v2M607 136.5h1M608.5 137v2M609.5 139v2M610.5 141v2M611.5 143v3M612.5 146v2M613.5 148v3M614.5 151v3M615.5 154v3M616.5 157v2M617.5 159v3M618.5 162v3M619.5 165v3M620.5 168v2M621.5 170v3M622.5 173v3M623.5 176v3M624.5 179v2M625.5 181v3M626.5 184v3M627.5 187v2M628.5 189v3M629.5 192v2M630.5 194v3M631.5 197v2M632.5 199v3M633.5 202v2M634.5 204v2M635.5 206v2M636.5 208v2M637.5 210v2M638 212.5h1M639.5 213v2M640.5 215v2M641.5 217v2M642 219.5h1M643 220.5h2M645 221.5h1M646 222.5h2M648 223.5h2M650 224.5h1M651 225.5h2M653 226.5h1M654 227.5h2M656 228.5h2M658 229.5h2M660 230.5h4M664 231.5h3M667 230.5h1M668 229.5h2M670 228.5h1M671 227.5h1M672 226.5h2M674 225.5h1M675 224.5h1M676 223.5h2M678 222.5h1M679 221.5h1M680 220.5h2M682 219.5h4M686 220.5h5M691 219.5h2M693 218.5h2M695 217.5h2M697 216.5h10M707 217.5h2M709 218.5h2M711 219.5h2M713 220.5h2M715 221.5h1M716 222.5h1M717 223.5h1M718.5 224v2M719 226.5h1M720 227.5h1M721 228.5h1M722 229.5h1M723 230.5h1M724 231.5h1M725 232.5h1M726.5 233v2M727 235.5h1M728 236.5h1M729 237.5h1M730 238.5h1M731.5 239v2M732.5 241v2M733.5 243v2M734.5 245v2M735.5 247v2M736.5 249v2M737.5 251v2M738 253.5h1M739 254.5h1M740.5 255v2M741 257.5h1M742 258.5h1M743 259.5h1M744.5 260v2M745 262.5h1M746 263.5h1M747.5 264v2M748.5 266v2M749 268.5h1M750.5 269v2M751 271.5h1M752.5 272v2M753.5 274v2M754.5 276v2M755.5 278v2M756.5 280v2M757.5 282v3M758.5 285v2M759.5 287v3M760.5 290v2M761.5 292v2M762.5 294v2M763.5 296v2M764.5 298v2M765.5 300v2M766 302.5h1M767.5 303v2M768.5 305v2M769.5 307v2M770 309.5h1M771.5 310v2M772 312.5h1M773 313.5h1M774.5 314v2M775 316.5h1M776 317.5h1M777.5 318v2M778 320.5h1M779 321.5h1M780 322.5h1M781 323.5h1M782 324.5h1M783 325.5h1M784 326.5h1M785 327.5h1M786 328.5h1M787.5 329v2M788 331.5h1M789 332.5h1M790.5 333v2M791 335.5h1M792 336.5h1M793.5 337v2M794 339.5h1M795 340.5h1M796 341.5h1M797 342.5h1M798 343.5h1M799 344.5h1M800 345.5h1M801 346.5h1M802 347.5h1M803 348.5h1M804 349.5h2M806 350.5h1M807 351.5h1M808 352.5h2M810 353.5h2M812 354.5h2M814 355.5h3M817 356.5h1M818.5 355v2M819.5 353v2M820.5 351v2M821.5 349v2M822.5 346v3M823.5 344v2M824.5 342v2M825.5 340v2M826.5 338v2M827 337.5h1M828 336.5h1M829 335.5h1M830.5 333v2M831 332.5h1M832 331.5h1M833 330.5h1M834 329.5h1M835 328.5h2M837 327.5h1M838 326.5h2M840 325.5h2M842 324.5h1M843.5 322v2M844.5 320v2M845.5 318v2M846 317.5h1M847.5 315v2M848.5 313v2M849.5 311v2M850.5 309v2M851.5 306v3M852.5 303v3M853.5 300v3M854.5 297v3M855.5 294v3M856.5 291v3M857.5 288v3M858.5 286v2M859.5 284v2M860.5 282v2M861.5 280v2M862.5 278v2M863.5 276v2M864.5 274v2M865.5 272v2M866 271.5h1M867.5 269v2M868.5 267v2M869 266.5h1M870.5 264v2M871 263.5h1M872.5 261v2M873.5 259v2M874 258.5h1M875 259.5h1M876 260.5h1M877 261.5h1M878.5 262v2M879 264.5h1M880 265.5h1M881 266.5h1M882 267.5h1M883 268.5h1M884 269.5h1M885 270.5h1M886.5 271v2M887 273.5h1M888 274.5h1M889 275.5h1M890 276.5h1M891.5 277v2M892.5 279v2M893.5 281v2M894 283.5h1M895.5 284v2M896.5 286v2M897.5 288v2M898 290.5h1M899.5 291v2M900.5 293v2M901.5 295v2M902 297.5h1M903.5 298v2M904.5 300v2M905.5 302v2M906 304.5h1M907.5 305v2M908.5 307v2M909.5 309v2M910.5 311v2M911.5 313v2M912.5 315v2M913.5 317v2M914.5 319v3M915.5 322v2M916.5 324v2M917.5 326v2M918.5 328v3M919.5 331v2M920.5 333v2M921.5 335v2M922.5 337v3M923.5 340v2M924.5 342v2M925.5 344v2M926.5 346v2M927.5 348v2M928.5 350v2M929.5 352v2M930.5 354v2M931.5 356v2M932.5 358v2M933.5 360v2M934 362.5h1M935.5 363v2M936.5 365v2M937.5 367v2M938 369.5h1M939 370.5h1M940 371.5h1M941 372.5h1M942 373.5h1M943 374.5h1M944 375.5h1M945 376.5h1M946 377.5h1M947 376.5h1M948 375.5h2M950 374.5h1M951 373.5h1M952 372.5h2M954 371.5h1M955 370.5h2M957 369.5h1M958 368.5h2M960 367.5h2M962 366.5h2M964 365.5h4M968 364.5h6M974 363.5h6M980 364.5h4M984 365.5h3M987 366.5h2M989 367.5h1M990 368.5h2M992 369.5h2M994 370.5h1M995.5 371v2M996.5 373v2M997.5 375v2M998.5 377v2M999.5 379v2M1000.5 381v2M1001.5 383v2M1002.5 385v2M1003.5 387v2M1004.5 389v3M1005.5 392v3M1006.5 395v2M1007.5 397v3M1008.5 400v3M1009.5 403v2M1010.5 405v3M1011.5 408v3M1012.5 411v4M1013.5 415v3M1014.5 418v3M1015.5 421v3M1016.5 424v4M1017.5 428v3M1018.5 431v3M1019.5 434v2M1020.5 436v2M1021.5 438v3M1022.5 441v2M1023.5 443v3M1024.5 446v2M1025.5 448v2M1026.5 450v2M1027.5 452v2M1028 454.5h1M1029 455.5h1M1030.5 456v2M1031 458.5h1M1032 459.5h1M1033.5 460v2M1034 462.5h1M1035 463.5h1M1036 464.5h2M1038 465.5h1M1039 466.5h1M1040 467.5h2M1042 468.5h1M1043 469.5h2M1045 470.5h1M1046 471.5h2M1048 472.5h2M1050 473.5h1M1051 472.5h1M1052 471.5h1M1053 470.5h1M1054 469.5h2M1056 468.5h1M1057 467.5h1M1058 466.5h1M1059 465.5h1M1060 464.5h1M1061 463.5h1M1062 462.5h2M1064 461.5h1M1065 460.5h1M1066.5 458v2M1067.5 456v2M1068.5 454v2M1069.5 452v2M1070.5 450v2M1071 449.5h1M1072 448.5h1M1073.5 446v2M1074 445.5h1M1075 444.5h2M1077 443.5h1M1078 442.5h2M1080 441.5h2M1082 440.5h1M1083 439.5h2M1085 438.5h2M1087 437.5h2M1089 436.5h2M1091 435.5h2M1093 434.5h1M1094 433.5h2M1096 432.5h2M1098 431.5h1M1099 430.5h1M1100 429.5h1M1101 428.5h1M1102 427.5h2M1104 426.5h1M1105 425.5h1M1106 424.5h1M1107 423.5h1M1108 422.5h1M1109 421.5h1M1110.5 419v2M1111 418.5h1M1112 417.5h1M1113 416.5h1" fill="none" stroke="#0000cd" stroke-width="1"/>
<rect x="2" y="60" width="1417" height="3" fill="#ff0000"/>
<rect x="1" y="61" width="1" height="1" fill="#ff0000"/>
<rect x="2" y="178" width="1417" height="3" fill="#ff0000"/>
<rect x="1" y="179" width="1" height="1" fill="#ff0000"/>
<rect x="2" y="276" width="1417" height="3" fill="#ff0000"/>
<rect x="1" y="277" width="1" height="1" fill="#ff0000"/>
<rect x="2" y="368" width="1417" height="3" fill="#00ff00"/>
<rect x="1" y="369" width="1" height="1" fill="#00ff00"/>
<rect x="2" y="451" width="1417" height="3" fill="#0000ff"/>
<rect x="1" y="452" width="1" height="1" fill="#0000ff"/>
<g fill="#c0c0c0">
<rect x="2" y="613" width="1" height="26"/>
<rect x="10" y="613" width="1" height="30"/>
<rect x="18" y="613" width="1" height="26"/>
<rect x="26" y="613" width="1" height="22"/>
<rect x="34" y="613" width="1" height="18"/>
<rect x="42" y="613" width="1" height="16"/>
<rect x="50" y="613" width="1" height="11"/>
<rect x="58" y="613" width="1" height="7"/>
<rect x="66" y="613" width="1" height="3"/>
<rect x="74" y="613" width="1" height="1"/>
<rect x="82" y="613" width="1" height="1"/>
<rect x="90" y="613" width="1" height="3"/>
<rect x="98" y="613" width="1" height="5"/>
<rect x="106" y="613" width="1" height="5"/>
<rect x="114" y="613" width="1" height="7"/>
<rect x="122" y="613" width="1" height="16"/>
<rect x="130" y="613" width="1" height="24"/>
<rect x="138" y="613" width="1" height="28"/>
<rect x="146" y="613" width="1" height="31"/>
<rect x="154" y="613" width="1" height="31"/>
<rect x="162" y="613" width="1" height="27"/>
<rect x="170" y="613" width="1" height="25"/>
<rect x="178" y="613" width="1" height="25"/>
<rect x="186" y="613" width="1" height="25"/>
<rect x="194" y="613" width="1" height="24"/>
<rect x="202" y="613" width="1" height="21"/>
<rect x="210" y="613" width="1" height="20"/>
<rect x="218" y="613" width="1" height="19"/>
<rect x="226" y="613" width="1" height="15"/>
<rect x="234" y="613" width="1" height="11"/>
<rect x="242" y="613" width="1" height="7"/>
<rect x="250" y="613" width="1" height="6"/>
<rect x="258" y="613" width="1" height="6"/>
<rect x="266" y="613" width="1" height="7"/>
<rect x="274" y="613" width="1" height="10"/>
<rect x="282" y="613" width="1" height="11"/>
<rect x="290" y="613" width="1" height="13"/>
<rect x="298" y="613" width="1" height="14"/>
<rect x="306" y="613" width="1" height="15"/>
<rect x="314" y="613" width="1" height="17"/>
<rect x="322" y="613" width="1" height="15"/>
<rect x="330" y="613" width="1" height="11"/>
<rect x="338" y="613" width="1" height="9"/>
<rect x="346" y="613" width="1" height="8"/>
<rect x="354" y="613" width="1" height="9"/>
<rect x="362" y="613" width="1" height="12"/>
<rect x="370" y="613" width="1" height="15"/>
<rect x="378" y="613" width="1" height="14"/>
<rect x="386" y="613" width="1" height="13"/>
<rect x="394" y="613" width="1" height="6"/>
<rect x="402" y="613" width="1" height="1"/>
<rect x="410" y="611" width="1" height="2"/>
<rect x="418" y="605" width="1" height="8"/>
<rect x="426" y="595" width="1" height="18"/>
<rect x="434" y="589" width="1" height="24"/>
<rect x="442" y="584" width="1" height="29"/>
<rect x="450" y="580" width="1" height="33"/>
<rect x="458" y="581" width="1" height="32"/>
<rect x="466" y="582" width="1" height="31"/>
<rect x="474" y="590" width="1" height="23"/>
<rect x="482" y="596" width="1" height="17"/>
<rect x="490" y="600" width="1" height="13"/>
<rect x="498" y="605" width="1" height="8"/>
<rect x="506" y="606" width="1" height="7"/>
<rect x="514" y="602" width="1" height="11"/>
<rect x="522" y="593" width="1" height="20"/>
<rect x="530" y="585" width="1" height="28"/>
<rect x="538" y="578" width="1" height="35"/>
<rect x="546" y="575" width="1" height="38"/>
<rect x="554" y="573" width="1" height="40"/>
<rect x="562" y="572" width="1" height="41"/>
<rect x="570" y="571" width="1" height="42"/>
<rect x="578" y="572" width="1" height="41"/>
<rect x="586" y="580" width="1" height="33"/>
<rect x="594" y="586" width="1" height="27"/>
<rect x="602" y="591" width="1" height="22"/>
<rect x="610" y="596" width="1" height="17"/>
<rect x="618" y="605" width="1" height="8"/>
<rect x="626" y="611" width="1" height="2"/>
<rect x="634" y="613" width="1" height="4"/>
<rect x="642" y="613" width="1" height="9"/>
<rect x="650" y="613" width="1" height="9"/>
<rect x="658" y="613" width="1" height="9"/>
<rect x="666" y="613" width="1" height="8"/>
<rect x="674" y="613" width="1" height="7"/>
<rect x="682" y="613" width="1" height="6"/>
<rect x="690" y="613" width="1" height="11"/>
<rect x="698" y="613" width="1" height="12"/>
<rect x="706" y="613" width="1" height="11"/>
<rect x="714" y="613" width="1" height="13"/>
<rect x="722" y="613" width="1" height="14"/>
<rect x="730" y="613" width="1" height="16"/>
<rect x="738" y="613" width="1" height="22"/>
<rect x="746" y="613" width="1" height="27"/>
<rect x="754" y="613" width="1" height="31"/>
<rect x="762" y="613" width="1" height="35"/>
<rect x="770" y="613" width="1" height="37"/>
<rect x="778" y="613" width="1" height="37"/>
<rect x="786" y="613" width="1" height="36"/>
<rect x="794" y="613" width="1" height="42"/>
<rect x="802" y="613" width="1" height="45"/>
<rect x="810" y="613" width="1" height="44"/>
<rect x="818" y="613" width="1" height="44"/>
<rect x="826" y="613" width="1" height="31"/>
<rect x="834" y="613" width="1" height="25"/>
<rect x="842" y="613" width="1" height="19"/>
<rect x="850" y="613" width="1" height="16"/>
<rect x="858" y="613" width="1" height="11"/>
<rect x="866" y="613" width="1" height="8"/>
<rect x="874" y="613" width="1" height="4"/>
<rect x="882" y="613" width="1" height="5"/>
<rect x="890" y="613" width="1" height="8"/>
<rect x="898" y="613" width="1" height="13"/>
<rect x="906" y="613" width="1" height="18"/>
<rect x="914" y="613" width="1" height="22"/>
<rect x="922" y="613" width="1" height="25"/>
<rect x="930" y="613" width="1" height="27"/>
<rect x="938" y="613" width="1" height="28"/>
<rect x="946" y="613" width="1" height="29"/>
<rect x="954" y="613" width="1" height="25"/>
<rect x="962" y="613" width="1" height="21"/>
<rect x="970" y="613" width="1" height="22"/>
<rect x="978" y="613" width="1" height="23"/>
<rect x="986" y="613" width="1" height="24"/>
<rect x="994" y="613" width="1" height="26"/>
<rect x="1002" y="613" width="1" height="35"/>
<rect x="1010" y="613" width="1" height="40"/>
<rect x="1018" y="613" width="1" height="46"/>
<rect x="1026" y="613" width="1" height="49"/>
<rect x="1034" y="613" width="1" height="46"/>
<rect x="1042" y="613" width="1" height="43"/>
<rect x="1050" y="613" width="1" height="39"/>
<rect x="1058" y="613" width="1" height="38"/>
<rect x="1066" y="613" width="1" height="35"/>
<rect x="1074" y="613" width="1" height="31"/>
<rect x="1082" y="613" width="1" height="31"/>
<rect x="1090" y="613" width="1" height="27"/>
<rect x="1098" y="613" width="1" height="23"/>
<rect x="1106" y="613" width="1" height="17"/>
<rect x="1114" y="613" width="1" height="14"/>
</g>
<path d="M2 638.5h2M4 639.5h1M8 640.5h3M14 641.5h3M20 641.5h3M26 641.5h3M32 640.5h3M38 639.5h2M40 638.5h1M44 638.5h2M46 637.5h1M50 637.5h1M51 636.5h2M56 634.5h1M57 633.5h2M62 632.5h2M64 631.5h1M68 630.5h2M70 629.5h1M74 628.5h2M76 627.5h1M80 626.5h1M81 625.5h2M86 623.5h3M92 621.5h3M98 620.5h3M104 619.5h3M110 618.5h3M116 618.5h3M122 618.5h2M124 619.5h1M128 620.5h3M134 622.5h3M140 624.5h1M141 625.5h2M146 627.5h2M148 628.5h1M152 629.5h1M153 630.5h2M158 632.5h3M164 634.5h3M170 635.5h2M172 636.5h1M176 637.5h3M182 638.5h2M184 639.5h1M188 639.5h3M194 639.5h3M200 639.5h3M206 638.5h3M212 638.5h2M214 637.5h1M218 637.5h2M220 636.5h1M224 635.5h3M230 634.5h2M232 633.5h1M236 633.5h2M238 632.5h1M242 632.5h2M244 631.5h1M248 630.5h1M249 629.5h2M254 628.5h3M260 627.5h2M262 626.5h1M266 625.5h2M268 624.5h1M272 623.5h3M278 623.5h3M284 623.5h3M290 623.5h3M296 622.5h3M302 623.5h3M308 623.5h2M310 624.5h1M314 624.5h3M320 625.5h3M326 625.5h3M332 625.5h3M338 625.5h3M344 625.5h3M350 625.5h3M356 625.5h3M362 625.5h3M368 625.5h3M374 625.5h3M380 625.5h3M386 625.5h2M388 624.5h1M392 623.5h3M398 622.5h3M404 622.5h2M406 621.5h1M410 621.5h2M412 620.5h1M416 619.5h1M417 618.5h2M422 616.5h3M428 614.5h1M429 613.5h2M434 611.5h1M435 610.5h2M440 608.5h1M441 607.5h2M446 604.5h2M448 603.5h1M452 600.5h2M454 599.5h1M458 596.5h1M459 595.5h2M464 593.5h1M465 592.5h2M470 590.5h3M476 589.5h2M478 588.5h1M482 588.5h3M488 588.5h3M494 589.5h3M500 590.5h3M506 591.5h2M508 592.5h1M512 593.5h3M518 594.5h3M524 594.5h2M526 595.5h1M530 595.5h3M536 594.5h3M542 593.5h2M544 592.5h1M548 591.5h3M554 590.5h2M556 589.5h1M560 588.5h1M561 587.5h2M566 585.5h1M567 584.5h2M572 582.5h1M573 581.5h2M578 579.5h2M580 578.5h1M584 577.5h3M590 576.5h3M596 576.5h2M598 577.5h1M602 577.5h2M604 578.5h1M608 579.5h3M614 581.5h3M620 583.5h1M621 584.5h2M626 586.5h1M627 587.5h2M632 590.5h2M634 591.5h1M638 594.5h1M639 595.5h1M640 596.5h1M644 599.5h2M646 600.5h1M650 603.5h1M651 604.5h2M656 607.5h2M658 608.5h1M662 610.5h1M663 611.5h2M668 613.5h2M670 614.5h1M674 615.5h2M676 616.5h1M680 617.5h1M681 618.5h2M686 619.5h2M688 620.5h1M692 621.5h3M698 622.5h3M704 622.5h3M710 623.5h3M716 623.5h3M722 623.5h3M728 624.5h3M734 625.5h2M736 626.5h1M740 627.5h3M746 628.5h2M748 629.5h1M752 630.5h1M753 631.5h2M758 632.5h2M760 633.5h1M764 634.5h3M770 635.5h1M771 636.5h2M776 638.5h1M777 639.5h2M782 641.5h3M788 643.5h2M790 644.5h1M794 645.5h2M796 646.5h1M800 647.5h1M801 648.5h2M806 649.5h3M812 650.5h2M814 651.5h1M818 652.5h3M824 652.5h3M830 651.5h2M832 650.5h1M836 650.5h2M838 649.5h1M842 649.5h2M844 648.5h1M848 647.5h3M854 645.5h3M860 643.5h1M861 642.5h2M866 640.5h1M867 639.5h2M872 637.5h1M873 636.5h2M878 633.5h2M880 632.5h1M884 630.5h1M885 629.5h2M890 627.5h2M892 626.5h1M896 625.5h3M902 624.5h3M908 624.5h2M910 625.5h1M914 625.5h3M920 626.5h3M926 627.5h2M928 628.5h1M932 629.5h3M938 630.5h2M940 631.5h1M944 632.5h3M950 634.5h3M956 635.5h2M958 636.5h1M962 636.5h3M968 637.5h3M974 638.5h3M980 638.5h3M986 638.5h3M992 638.5h3M998 639.5h3M1004 639.5h2M1006 640.5h1M1010 640.5h2M1012 641.5h1M1016 642.5h3M1022 644.5h3M1028 646.5h3M1034 647.5h2M1036 648.5h1M1040 649.5h1M1041 650.5h2M1046 651.5h3M1052 652.5h3M1058 653.5h3M1064 654.5h3M1070 654.5h3M1076 654.5h2M1078 653.5h1M1082 653.5h2M1084 652.5h1M1088 651.5h1M1089 650.5h2M1094 649.5h2M1096 648.5h1M1100 647.5h2M1102 646.5h1M1106 645.5h2M1108 644.5h1M1112 643.5h1M1113 642.5h2" fill="none" stroke="#ff0000" stroke-width="1"/>
<path d="M2 709.5 H1417 M2 760.5 H1417" stroke="#c0c0c0" stroke-width="1" stroke-dasharray="3 3" fill="none"/>
<path d="M2 746.5h9M11 745.5h1M12 744.5h1M13 743.5h1M14.5 741v2M15 740.5h1M16 739.5h1M17 738.5h1M18 737.5h2M20 736.5h4M24 735.5h4M28 734.5h4M32 733.5h4M36 734.5h2M38 735.5h3M41 736.5h2M43 735.5h1M44 734.5h1M45 733.5h1M46 732.5h2M48 731.5h1M49 730.5h1M50 729.5h4M54 728.5h8M62 727.5h5M67 728.5h2M69 729.5h1M70 730.5h2M72 731.5h2M74 732.5h2M76 731.5h4M80 730.5h3M83.5 731v2M84.5 733v2M85.5 735v2M86 737.5h1M87.5 738v2M88.5 740v2M89.5 742v2M90 744.5h1M91 743.5h2M93 742.5h2M95 741.5h2M97 740.5h3M100 739.5h2M102 738.5h3M105 737.5h2M107 738.5h1M108 739.5h1M109 740.5h1M110 741.5h2M112 742.5h1M113 743.5h1M114 744.5h1M115.5 745v2M116 747.5h1M117 748.5h1M118.5 749v2M119 751.5h1M120 752.5h1M121.5 753v2M122 755.5h2M124 756.5h4M128 757.5h3M131 756.5h2M133 755.5h1M134 754.5h2M136 753.5h2M138 752.5h4M142 753.5h5M147 752.5h1M148 751.5h1M149 750.5h1M150.5 748v2M151 747.5h1M152 746.5h1M153 745.5h1M154 744.5h1M155 743.5h1M156 742.5h2M158 741.5h1M159 740.5h1M160 739.5h2M162 738.5h2M164 739.5h4M168 740.5h3M171 741.5h2M173 742.5h1M174 743.5h2M176 744.5h2M178 745.5h1M179 744.5h2M181 743.5h2M183 742.5h2M185 741.5h5M190 742.5h5M195 741.5h2M197 740.5h2M199 739.5h2M201 738.5h3M204 739.5h2M206 740.5h3M209 741.5h3M212 740.5h4M216 739.5h3M219 738.5h2M221 737.5h2M223 736.5h2M225 735.5h2M227 734.5h2M229 733.5h2M231 732.5h2M233 731.5h5M238 730.5h8M246 731.5h5M251 732.5h1M252 733.5h1M253 734.5h1M254 735.5h2M256 736.5h1M257 737.5h1M258 738.5h4M262 737.5h5M267 738.5h1M268 739.5h1M269 740.5h1M270 741.5h1M271 742.5h1M272 743.5h1M273 744.5h1M274 745.5h2M276 746.5h2M278 747.5h3M281 748.5h3M284 747.5h4M288 746.5h20M308 747.5h4M312 748.5h3M315 747.5h1M316.5 745v2M317 744.5h1M318 743.5h1M319 742.5h1M320.5 740v2M321 739.5h1M322 738.5h1M323 737.5h1M324 736.5h1M325 735.5h1M326 734.5h2M328 733.5h1M329 732.5h1M330 731.5h4M334 732.5h5M339 733.5h2M341 734.5h2M343 735.5h2M345 736.5h2M347 737.5h1M348 738.5h1M349 739.5h1M350 740.5h2M352 741.5h1M353 742.5h1M354 743.5h1M355 744.5h1M356 745.5h1M357 746.5h1M358 747.5h2M360 748.5h1M361 749.5h1M362 750.5h2M364 751.5h4M368 752.5h3M371.5 750v2M372.5 748v2M373.5 746v2M374 745.5h1M375.5 743v2M376.5 741v2M377.5 739v2M378 738.5h8M386.5 737v2M387.5 735v2M388.5 733v2M389.5 731v2M390.5 729v2M391.5 727v2M392.5 725v2M393.5 723v2M394.5 721v2M395 721.5h3M398 720.5h5M403 721.5h1M404 722.5h1M405 723.5h1M406 724.5h2M408 725.5h1M409 726.5h1M410 727.5h1M411 726.5h1M412 725.5h1M413 724.5h1M414.5 722v2M415 721.5h1M416 720.5h1M417 719.5h1M418 718.5h1M419 717.5h1M420 716.5h1M421 715.5h1M422 714.5h1M423 713.5h1M424 712.5h1M425 711.5h1M426 710.5h1M427 711.5h2M429 712.5h1M430 713.5h2M432 714.5h2M434 715.5h12M446 714.5h5M451 715.5h1M452 716.5h1M453 717.5h1M454.5 718v2M455 720.5h1M456 721.5h1M457 722.5h1M458 723.5h2M460 724.5h2M462 725.5h3M465 726.5h2M467.5 727v2M468.5 729v2M469.5 731v2M470 733.5h1M471.5 734v2M472.5 736v2M473.5 738v2M474 740.5h4M478 739.5h6M484 738.5h4M488 737.5h3M491 738.5h2M493 739.5h1M494 740.5h2M496 741.5h2M498 742.5h1M499 741.5h1M500 740.5h1M501 739.5h1M502.5 737v2M503 736.5h1M504 735.5h1M505 734.5h1M506 733.5h1M507 732.5h1M508 731.5h1M509 730.5h1M510.5 728v2M511 727.5h1M512 726.5h1M513 725.5h1M514 724.5h1M515 723.5h1M516 722.5h1M517 721.5h1M518.5 719v2M519 718.5h1M520 717.5h1M521 716.5h1M522 715.5h2M524 714.5h4M528 713.5h6M534 712.5h5M539 713.5h1M540 714.5h1M541 715.5h1M542 716.5h2M544 717.5h1M545 718.5h1M546 719.5h4M550 718.5h16M566 717.5h5M571 718.5h2M573 719.5h1M574 720.5h2M576 721.5h2M578 722.5h1M579.5 723v2M580.5 725v2M581.5 727v2M582.5 729v2M583.5 731v2M584.5 733v2M585.5 735v2M586 737.5h4M590 736.5h16M606 737.5h5M611.5 738v2M612 740.5h1M613 741.5h1M614.5 742v2M615 744.5h1M616 745.5h1M617.5 746v2M618 748.5h4M622 747.5h6M628 748.5h4M632 749.5h6M638 750.5h5M643.5 748v2M644 747.5h1M645.5 745v2M646 744.5h1M647.5 742v2M648 741.5h1M649.5 739v2M650 738.5h4M654 739.5h5M659 738.5h2M661 737.5h2M663 736.5h2M665 735.5h11M676 736.5h4M680 737.5h3M683 738.5h1M684.5 739v2M685 741.5h1M686 742.5h1M687 743.5h1M688.5 744v2M689 746.5h1M690 747.5h1M691 746.5h2M693 745.5h2M695 744.5h2M697 743.5h2M699 742.5h1M700 741.5h1M701 740.5h1M702 739.5h1M703 738.5h1M704 737.5h1M705 736.5h1M706 735.5h1M707 736.5h1M708 737.5h1M709 738.5h1M710 739.5h1M711 740.5h1M712 741.5h1M713 742.5h1M714 743.5h9M723 744.5h2M725 745.5h2M727 746.5h2M729 747.5h2M731 748.5h1M732 749.5h1M733 750.5h1M734 751.5h2M736 752.5h1M737 753.5h1M738 754.5h4M742 755.5h8M750 754.5h6M756 755.5h2M758 756.5h3M761 757.5h5M766 756.5h5M771 755.5h2M773 754.5h2M775 753.5h2M777 752.5h2M779 751.5h2M781 750.5h2M783 749.5h2M785 748.5h2M787.5 749v2M788.5 751v2M789 753.5h1M790.5 754v2M791 756.5h1M792.5 757v2M793.5 759v2M794 761.5h2M796 760.5h2M798 759.5h3M801 758.5h2M803 757.5h1M804 756.5h1M805 755.5h1M806 754.5h1M807 753.5h1M808 752.5h1M809 751.5h1M810 750.5h8M818.5 749v2M819.5 746v3M820.5 743v3M821.5 740v3M822.5 736v4M823.5 733v3M824.5 730v3M825.5 727v3M826.5 725v2M827 726.5h1M828 727.5h2M830 728.5h1M831 729.5h1M832 730.5h2M834 731.5h9M843 732.5h2M845 733.5h2M847 734.5h2M849 735.5h2M851 734.5h2M853 733.5h2M855 732.5h2M857 731.5h11M868 730.5h4M872 729.5h3M875 730.5h1M876 731.5h1M877 732.5h1M878 733.5h1M879 734.5h1M880 735.5h1M881 736.5h1M882 737.5h1M883 738.5h1M884 739.5h2M886 740.5h1M887 741.5h1M888 742.5h2M890 743.5h1M891 744.5h2M893 745.5h1M894 746.5h2M896 747.5h2M898 748.5h2M900 749.5h4M904 750.5h12M916 751.5h4M920 752.5h3M923 751.5h2M925 750.5h2M927 749.5h2M929 748.5h5M934 749.5h8M942 750.5h5M947.5 748v2M948.5 746v2M949.5 744v2M950.5 742v2M951.5 740v2M952.5 738v2M953.5 736v2M954 735.5h4M958 736.5h5M963 737.5h1M964 738.5h1M965 739.5h1M966 740.5h1M967 741.5h1M968 742.5h1M969 743.5h1M970 744.5h2M972 745.5h4M976 746.5h11M987 747.5h2M989 748.5h1M990 749.5h2M992 750.5h2M994 751.5h1M995.5 752v2M996 754.5h1M997 755.5h1M998.5 756v2M999 758.5h1M1000 759.5h1M1001.5 760v2M1002 762.5h1M1003 761.5h2M1005 760.5h2M1007 759.5h2M1009 758.5h3M1012 759.5h2M1014 760.5h3M1017 761.5h3M1020 760.5h4M1024 759.5h3M1027.5 757v2M1028.5 755v2M1029.5 753v2M1030.5 751v2M1031.5 749v2M1032.5 747v2M1033.5 745v2M1034 744.5h12M1046 745.5h6M1052 746.5h4M1056 747.5h3M1059 746.5h1M1060 745.5h1M1061 744.5h1M1062 743.5h2M1064 742.5h1M1065 741.5h1M1066 740.5h9M1075 741.5h1M1076 742.5h2M1078 743.5h1M1079 744.5h1M1080 745.5h2M1082 746.5h1M1083 745.5h1M1084 744.5h1M1085 743.5h1M1086.5 741v2M1087 740.5h1M1088 739.5h1M1089 738.5h1M1090 737.5h2M1092 736.5h2M1094 735.5h3M1097 734.5h3M1100 733.5h2M1102 732.5h3M1105 731.5h3M1108 732.5h4M1112 733.5h3" fill="none" stroke="#1e90ff" stroke-width="1"/>
</svg>
<svg width="10" height="6" style="left:4px;top:29px;" viewBox="0 0 10 6"><path d="M1 5 L4.5 1 L8 5 Z" fill="#000"/></svg>
<div class="t" style="left:16.85px;top:27.00px;font-size:10.2px;color:#000;transform:scaleX(0.9207);line-height:11px;">EURUSD-,Daily</div>
<div class="t" style="left:89.91px;top:27.00px;font-size:10.2px;color:#000;transform:scaleX(0.9041);line-height:11px;">1.10823 1.10836 1.10723 1.10751</div>
<div class="t" style="left:5.94px;top:569.00px;font-size:10.2px;color:#000;transform:scaleX(0.9271);line-height:11px;">MACD(12,26,9)</div>
<div class="t" style="left:74.94px;top:569.00px;font-size:10.2px;color:#000;transform:scaleX(0.8929);line-height:11px;">-0.001386</div>
<div class="t" style="left:119.34px;top:569.00px;font-size:10.2px;color:#000;transform:scaleX(0.8884);line-height:11px;">-0.002803</div>
<div class="t" style="left:5.55px;top:674.00px;font-size:10.2px;color:#000;transform:scaleX(0.9172);line-height:11px;">RSI(14) 51.3386</div>
<div class="t" style="left:1423.01px;top:27.00px;font-size:10.2px;color:#000;transform:scaleX(0.9020);line-height:11px;">1.14295</div>
<div class="t" style="left:1423.01px;top:60.00px;font-size:10.2px;color:#000;transform:scaleX(0.9020);line-height:11px;">1.13975</div>
<div class="t" style="left:1423.01px;top:93.00px;font-size:10.2px;color:#000;transform:scaleX(0.9020);line-height:11px;">1.13650</div>
<div class="t" style="left:1423.01px;top:126.00px;font-size:10.2px;color:#000;transform:scaleX(0.9020);line-height:11px;">1.13330</div>
<div class="t" style="left:1423.01px;top:159.00px;font-size:10.2px;color:#000;transform:scaleX(0.9020);line-height:11px;">1.13010</div>
<div class="t" style="left:1423.01px;top:192.00px;font-size:10.2px;color:#000;transform:scaleX(0.9020);line-height:11px;">1.12685</div>
<div class="t" style="left:1423.01px;top:225.00px;font-size:10.2px;color:#000;transform:scaleX(0.9020);line-height:11px;">1.12365</div>
<div class="t" style="left:1423.01px;top:258.00px;font-size:10.2px;color:#000;transform:scaleX(0.9020);line-height:11px;">1.12045</div>
<div class="t" style="left:1423.01px;top:291.00px;font-size:10.2px;color:#000;transform:scaleX(0.9020);line-height:11px;">1.11725</div>
<div class="t" style="left:1423.01px;top:324.00px;font-size:10.2px;color:#000;transform:scaleX(0.9020);line-height:11px;">1.11400</div>
<div class="t" style="left:1423.01px;top:357.00px;font-size:10.2px;color:#000;transform:scaleX(0.9020);line-height:11px;">1.11080</div>
<div class="t" style="left:1423.01px;top:390.00px;font-size:10.2px;color:#000;transform:scaleX(0.9020);line-height:11px;">1.10760</div>
<div class="t" style="left:1423.01px;top:423.00px;font-size:10.2px;color:#000;transform:scaleX(0.9020);line-height:11px;">1.10440</div>
<div class="t" style="left:1423.01px;top:456.00px;font-size:10.2px;color:#000;transform:scaleX(0.9020);line-height:11px;">1.10115</div>
<div class="t" style="left:1423.01px;top:489.00px;font-size:10.2px;color:#000;transform:scaleX(0.9020);line-height:11px;">1.09795</div>
<div class="t" style="left:1423.01px;top:522.00px;font-size:10.2px;color:#000;transform:scaleX(0.9020);line-height:11px;">1.09475</div>
<div class="t" style="left:1423.01px;top:555.00px;font-size:10.2px;color:#000;transform:scaleX(0.9020);line-height:11px;">1.09150</div>
<div class="t" style="left:1420.68px;top:567.00px;font-size:10.2px;color:#000;transform:scaleX(0.9020);line-height:11px;">0.004536</div>
<div class="t" style="left:1421.48px;top:609.00px;font-size:10.2px;color:#000;transform:scaleX(0.9020);line-height:11px;">0.00</div>
<div class="t" style="left:1420.83px;top:656.00px;font-size:10.2px;color:#000;transform:scaleX(0.9020);line-height:11px;">-0.005205</div>
<div class="t" style="left:1421.11px;top:672.00px;font-size:10.2px;color:#000;transform:scaleX(0.9020);line-height:11px;">100</div>
<div class="t" style="left:1419.84px;top:705.00px;font-size:10.2px;color:#000;transform:scaleX(0.9020);line-height:11px;">70</div>
<div class="t" style="left:1419.98px;top:756.00px;font-size:10.2px;color:#000;transform:scaleX(0.9020);line-height:11px;">30</div>
<div class="t" style="left:1420.88px;top:788.00px;font-size:10.2px;color:#000;transform:scaleX(0.9020);line-height:11px;">0</div>
<div class="b" style="left:1419px;top:55px;width:41px;height:11px;background:#ff0000;"></div>
<div class="t" style="left:1423.01px;top:56.00px;font-size:10.2px;color:#fff;transform:scaleX(0.9020);line-height:11px;">1.14009</div>
<div class="b" style="left:1419px;top:173px;width:41px;height:11px;background:#ff0000;"></div>
<div class="t" style="left:1423.01px;top:174.00px;font-size:10.2px;color:#fff;transform:scaleX(0.9020);line-height:11px;">1.12851</div>
<div class="b" style="left:1419px;top:271px;width:41px;height:11px;background:#ff0000;"></div>
<div class="t" style="left:1423.01px;top:272.00px;font-size:10.2px;color:#fff;transform:scaleX(0.9020);line-height:11px;">1.11901</div>
<div class="b" style="left:1419px;top:363px;width:41px;height:11px;background:#00ff00;"></div>
<div class="t" style="left:1423.01px;top:364.00px;font-size:10.2px;color:#fff;transform:scaleX(0.9020);line-height:11px;">1.11000</div>
<div class="b" style="left:1419px;top:446px;width:41px;height:11px;background:#0000ff;"></div>
<div class="t" style="left:1423.01px;top:447.00px;font-size:10.2px;color:#fff;transform:scaleX(0.9020);line-height:11px;">1.10201</div>
<div class="b" style="left:1419px;top:390px;width:41px;height:11px;background:#000000;"></div>
<div class="t" style="left:1423.01px;top:391.00px;font-size:10.2px;color:#fff;transform:scaleX(0.9020);line-height:11px;">1.10751</div>
<div class="t" style="left:0.61px;top:804.00px;font-size:10.2px;color:#000;transform:scaleX(0.9474);line-height:11px;">5 Apr 2019</div>
<div class="t" style="left:64.28px;top:804.00px;font-size:10.2px;color:#000;transform:scaleX(0.9474);line-height:11px;">15 Apr 2019</div>
<div class="t" style="left:128.52px;top:804.00px;font-size:10.2px;color:#000;transform:scaleX(0.9474);line-height:11px;">25 Apr 2019</div>
<div class="t" style="left:192.61px;top:804.00px;font-size:10.2px;color:#000;transform:scaleX(0.9474);line-height:11px;">5 May 2019</div>
<div class="t" style="left:256.28px;top:804.00px;font-size:10.2px;color:#000;transform:scaleX(0.9474);line-height:11px;">14 May 2019</div>
<div class="t" style="left:320.52px;top:804.00px;font-size:10.2px;color:#000;transform:scaleX(0.9474);line-height:11px;">23 May 2019</div>
<div class="t" style="left:384.52px;top:804.00px;font-size:10.2px;color:#000;transform:scaleX(0.9474);line-height:11px;">2 Jun 2019</div>
<div class="t" style="left:448.28px;top:804.00px;font-size:10.2px;color:#000;transform:scaleX(0.9474);line-height:11px;">11 Jun 2019</div>
<div class="t" style="left:512.52px;top:804.00px;font-size:10.2px;color:#000;transform:scaleX(0.9474);line-height:11px;">20 Jun 2019</div>
<div class="t" style="left:576.66px;top:804.00px;font-size:10.2px;color:#000;transform:scaleX(0.9474);line-height:11px;">30 Jun 2019</div>
<div class="t" style="left:640.57px;top:804.00px;font-size:10.2px;color:#000;transform:scaleX(0.9474);line-height:11px;">9 Jul 2019</div>
<div class="t" style="left:704.28px;top:804.00px;font-size:10.2px;color:#000;transform:scaleX(0.9474);line-height:11px;">18 Jul 2019</div>
<div class="t" style="left:768.52px;top:804.00px;font-size:10.2px;color:#000;transform:scaleX(0.9474);line-height:11px;">28 Jul 2019</div>
<div class="t" style="left:832.52px;top:804.00px;font-size:10.2px;color:#000;transform:scaleX(0.9474);line-height:11px;">6 Aug 2019</div>
<div class="t" style="left:896.28px;top:804.00px;font-size:10.2px;color:#000;transform:scaleX(0.9474);line-height:11px;">15 Aug 2019</div>
<div class="t" style="left:960.52px;top:804.00px;font-size:10.2px;color:#000;transform:scaleX(0.9474);line-height:11px;">25 Aug 2019</div>
<div class="t" style="left:1024.66px;top:804.00px;font-size:10.2px;color:#000;transform:scaleX(0.9474);line-height:11px;">3 Sep 2019</div>
<div class="t" style="left:1088.28px;top:804.00px;font-size:10.2px;color:#000;transform:scaleX(0.9474);line-height:11px;">12 Sep 2019</div>
<div class="b" style="left:5px;top:43px;width:219px;height:24px;background:#fff;"></div>
<div class="b" style="left:5px;top:43px;width:52px;height:24px;background:linear-gradient(#5f5ff5,#3c3ce9);"></div>
<div class="b" style="left:172px;top:43px;width:52px;height:24px;background:linear-gradient(#5f5ff5,#3c3ce9);"></div>
<div class="b" style="left:5px;top:67px;width:109px;height:40px;background:linear-gradient(#3636e6,#0000b2);"></div>
<div class="b" style="left:116px;top:67px;width:108px;height:40px;background:linear-gradient(#3636e6,#0000b2);"></div>
<div class="b" style="left:9px;top:66px;width:44px;height:1px;background:#9090ff;"></div>
<div class="b" style="left:176px;top:66px;width:44px;height:1px;background:#9090ff;"></div>
<div class="b" style="left:59px;top:43px;width:111px;height:22px;background:#fff;border:1px solid #b0b0b0;box-sizing:border-box;"></div>
<div class="b" style="left:60px;top:44px;width:20px;height:20px;background:linear-gradient(#f6f6f6,#d0d0d0);border-right:1px solid #b0b0b0;box-sizing:border-box;"></div>
<div class="b" style="left:149px;top:44px;width:20px;height:20px;background:linear-gradient(#f6f6f6,#d0d0d0);border-left:1px solid #b0b0b0;box-sizing:border-box;"></div>
<svg width="6" height="4" style="left:67px;top:52px;" viewBox="0 0 6 4"><path d="M0 0 H6 L3 3.5 Z" fill="#4a5a9a"/></svg>
<svg width="6" height="4" style="left:156px;top:51px;" viewBox="0 0 6 4"><path d="M0 3.5 H6 L3 0 Z" fill="#4a5a9a"/></svg>
<div class="t" style="left:120.46px;top:47.00px;font-size:12.2px;color:#000;transform:scaleX(1.0274);line-height:14px;">1.00</div>
<div class="t" style="left:17.22px;top:48.00px;font-size:11.7px;color:#fff;transform:scaleX(0.9124);line-height:13px;">SELL</div>
<div class="t" style="left:184.43px;top:48.00px;font-size:11.7px;color:#fff;transform:scaleX(1.0405);line-height:13px;">BUY</div>
<div class="t" style="left:25.05px;top:87.00px;font-size:11.8px;color:#fff;transform:scaleX(1.0582);font-weight:bold;line-height:14px;">1.10</div>
<div class="t" style="left:135.05px;top:87.00px;font-size:11.8px;color:#fff;transform:scaleX(1.0536);font-weight:bold;line-height:14px;">1.10</div>
<div class="t" style="left:55.13px;top:68.00px;font-size:34.6px;color:#fff;transform:scaleX(0.8501);line-height:38px;">75</div>
<div class="t" style="left:165.50px;top:68.00px;font-size:34.6px;color:#fff;transform:scaleX(0.8699);line-height:38px;">76</div>
<div class="t" style="left:91.90px;top:73.00px;font-size:11.6px;color:#fff;transform:scaleX(1.0000);font-weight:bold;line-height:12px;">1</div>
<div class="t" style="left:203.05px;top:73.00px;font-size:11.6px;color:#fff;transform:scaleX(1.0000);font-weight:bold;line-height:12px;">9</div>
<div class="b" style="left:0px;top:820px;width:1463px;height:1px;background:#e6e6e6;"></div>
<div class="b" style="left:0px;top:822px;width:1463px;height:16px;background:#f0f0f0;border-top:1px solid #696969;box-sizing:border-box;"></div>
<div class="b" style="left:3px;top:822px;width:108px;height:16px;background:#fff;border-left:1px solid #404040;border-right:1px solid #404040;box-sizing:border-box;"></div>
<div class="t" style="left:13.63px;top:826.00px;font-size:12px;color:#000;transform:scaleX(1.0072);line-height:14px;">EURUSD-,Daily</div>
<div class="t" style="left:121.00px;top:826.00px;font-size:12px;color:#707070;transform:scaleX(1.0072);line-height:14px;">AUDUSD-,Daily</div>
<div class="t" style="left:230.09px;top:826.00px;font-size:12px;color:#707070;transform:scaleX(1.0072);line-height:14px;">USDCHF-,Daily</div>
<div class="t" style="left:337.49px;top:826.00px;font-size:12px;color:#707070;transform:scaleX(1.0072);line-height:14px;">USDCAD-,Daily</div>
<div class="t" style="left:446.09px;top:826.00px;font-size:12px;color:#707070;transform:scaleX(1.0072);line-height:14px;">USDCNH-,Daily</div>
<div class="t" style="left:557.73px;top:826.00px;font-size:12px;color:#707070;transform:scaleX(1.0072);line-height:14px;">EURCHF-,Weekly</div>
<div class="t" style="left:678.46px;top:826.00px;font-size:12px;color:#707070;transform:scaleX(1.0072);line-height:14px;">XAUUSD-,Daily</div>
<div class="t" style="left:785.90px;top:826.00px;font-size:12px;color:#707070;transform:scaleX(1.0072);line-height:14px;">GBPUSD-,H1</div>
<div class="t" style="left:881.09px;top:826.00px;font-size:12px;color:#707070;transform:scaleX(1.0072);line-height:14px;">UKOil-,H1</div>
<div class="t" style="left:960.79px;top:826.00px;font-size:12px;color:#707070;transform:scaleX(1.0072);line-height:14px;">USDX-,Weekly</div>
<div class="t" style="left:1065.73px;top:826.00px;font-size:12px;color:#707070;transform:scaleX(1.0072);line-height:14px;">EURCHF-,Weekly</div>
<div class="b" style="left:219px;top:825px;width:1px;height:13px;background:#808080;"></div>
<div class="b" style="left:328px;top:825px;width:1px;height:13px;background:#808080;"></div>
<div class="b" style="left:435px;top:825px;width:1px;height:13px;background:#808080;"></div>
<div class="b" style="left:547px;top:825px;width:1px;height:13px;background:#808080;"></div>
<div class="b" style="left:668px;top:825px;width:1px;height:13px;background:#808080;"></div>
<div class="b" style="left:775px;top:825px;width:1px;height:13px;background:#808080;"></div>
<div class="b" style="left:871px;top:825px;width:1px;height:13px;background:#808080;"></div>
<div class="b" style="left:951px;top:825px;width:1px;height:13px;background:#808080;"></div>
<div class="b" style="left:1056px;top:825px;width:1px;height:13px;background:#808080;"></div>
<div class="b" style="left:1175px;top:825px;width:1px;height:13px;background:#808080;"></div>
<svg width="6" height="8" style="left:1432px;top:827px;" viewBox="0 0 6 8"><path d="M5 0 V8 L0.5 4 Z" fill="#808080"/></svg>
<svg width="6" height="8" style="left:1451px;top:827px;" viewBox="0 0 6 8"><path d="M1 0 V8 L5.5 4 Z" fill="#808080"/></svg>
</body></html>
